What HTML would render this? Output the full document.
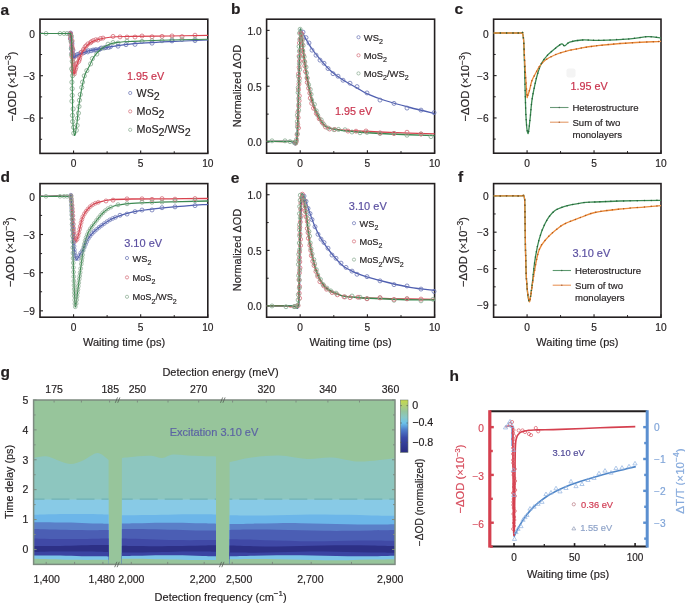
<!DOCTYPE html><html><head><meta charset="utf-8"><style>html,body{margin:0;padding:0;background:#fff;width:685px;height:603px;overflow:hidden;position:relative}</style></head><body><svg width="685" height="603" viewBox="0 0 685 603" style="position:absolute;left:0;top:0;will-change:transform" font-family='"Liberation Sans", sans-serif'>
<style>text{stroke:currentColor;stroke-width:0.18px;paint-order:stroke}</style>
<rect width="685" height="603" fill="#ffffff"/>
<text x="0.60" y="15.20" font-size="15.5" text-anchor="start" fill="#231f20" color="#231f20" font-weight="bold">a</text>
<text x="231.00" y="13.50" font-size="15.5" text-anchor="start" fill="#231f20" color="#231f20" font-weight="bold">b</text>
<text x="454.60" y="13.60" font-size="15.5" text-anchor="start" fill="#231f20" color="#231f20" font-weight="bold">c</text>
<text x="0.40" y="181.60" font-size="15.5" text-anchor="start" fill="#231f20" color="#231f20" font-weight="bold">d</text>
<text x="230.80" y="183.00" font-size="15.5" text-anchor="start" fill="#231f20" color="#231f20" font-weight="bold">e</text>
<text x="458.00" y="181.60" font-size="15.5" text-anchor="start" fill="#231f20" color="#231f20" font-weight="bold">f</text>
<text x="0.60" y="377.20" font-size="15.5" text-anchor="start" fill="#231f20" color="#231f20" font-weight="bold">g</text>
<text x="449.40" y="380.60" font-size="15.5" text-anchor="start" fill="#231f20" color="#231f20" font-weight="bold">h</text>
<rect x="40.00" y="19.20" width="167.80" height="134.20" fill="none" stroke="#231f20" stroke-width="1.6"/>
<line x1="73.56" y1="153.40" x2="73.56" y2="150.40" stroke="#231f20" stroke-width="1.1"/>
<line x1="140.68" y1="153.40" x2="140.68" y2="150.40" stroke="#231f20" stroke-width="1.1"/>
<line x1="207.80" y1="153.40" x2="207.80" y2="150.40" stroke="#231f20" stroke-width="1.1"/>
<line x1="107.12" y1="153.40" x2="107.12" y2="151.30" stroke="#231f20" stroke-width="1.0"/>
<line x1="174.24" y1="153.40" x2="174.24" y2="151.30" stroke="#231f20" stroke-width="1.0"/>
<line x1="40.00" y1="33.33" x2="43.00" y2="33.33" stroke="#231f20" stroke-width="1.1"/>
<line x1="40.00" y1="75.71" x2="43.00" y2="75.71" stroke="#231f20" stroke-width="1.1"/>
<line x1="40.00" y1="118.08" x2="43.00" y2="118.08" stroke="#231f20" stroke-width="1.1"/>
<line x1="40.00" y1="54.52" x2="42.10" y2="54.52" stroke="#231f20" stroke-width="1.0"/>
<line x1="40.00" y1="96.89" x2="42.10" y2="96.89" stroke="#231f20" stroke-width="1.0"/>
<line x1="40.00" y1="139.27" x2="42.10" y2="139.27" stroke="#231f20" stroke-width="1.0"/>
<text x="35.00" y="37.63" font-size="10.2" text-anchor="end" fill="#231f20" color="#231f20" font-weight="normal">0</text>
<text x="35.00" y="80.01" font-size="10.2" text-anchor="end" fill="#231f20" color="#231f20" font-weight="normal">−3</text>
<text x="35.00" y="122.38" font-size="10.2" text-anchor="end" fill="#231f20" color="#231f20" font-weight="normal">−6</text>
<text x="73.56" y="166.60" font-size="10.2" text-anchor="middle" fill="#231f20" color="#231f20" font-weight="normal">0</text>
<text x="140.68" y="166.60" font-size="10.2" text-anchor="middle" fill="#231f20" color="#231f20" font-weight="normal">5</text>
<text x="207.80" y="166.60" font-size="10.2" text-anchor="middle" fill="#231f20" color="#231f20" font-weight="normal">10</text>
<text x="15.60" y="86.50" font-size="11.2" text-anchor="middle" fill="#231f20" color="#231f20" font-weight="normal" transform="rotate(-90 15.60 86.50)">−ΔOD (×10<tspan dy="-4.5" font-size="8.5">−3</tspan><tspan dy="4.5">)</tspan></text>
<circle cx="69.60" cy="33.84" r="2.0" fill="none" stroke="#6a74b4" stroke-width="0.8"/>
<circle cx="70.58" cy="33.06" r="2.0" fill="none" stroke="#6a74b4" stroke-width="0.8"/>
<circle cx="70.58" cy="35.34" r="2.0" fill="none" stroke="#6a74b4" stroke-width="0.8"/>
<circle cx="71.07" cy="37.76" r="2.0" fill="none" stroke="#6a74b4" stroke-width="0.8"/>
<circle cx="70.55" cy="38.99" r="2.0" fill="none" stroke="#6a74b4" stroke-width="0.8"/>
<circle cx="71.83" cy="42.00" r="2.0" fill="none" stroke="#6a74b4" stroke-width="0.8"/>
<circle cx="71.97" cy="43.82" r="2.0" fill="none" stroke="#6a74b4" stroke-width="0.8"/>
<circle cx="71.76" cy="47.04" r="2.0" fill="none" stroke="#6a74b4" stroke-width="0.8"/>
<circle cx="71.70" cy="49.20" r="2.0" fill="none" stroke="#6a74b4" stroke-width="0.8"/>
<circle cx="72.93" cy="50.23" r="2.0" fill="none" stroke="#6a74b4" stroke-width="0.8"/>
<circle cx="71.97" cy="53.11" r="2.0" fill="none" stroke="#6a74b4" stroke-width="0.8"/>
<circle cx="73.52" cy="54.79" r="2.0" fill="none" stroke="#6a74b4" stroke-width="0.8"/>
<circle cx="72.91" cy="56.62" r="2.0" fill="none" stroke="#6a74b4" stroke-width="0.8"/>
<circle cx="73.90" cy="56.82" r="2.0" fill="none" stroke="#6a74b4" stroke-width="0.8"/>
<circle cx="75.74" cy="55.89" r="2.0" fill="none" stroke="#6a74b4" stroke-width="0.8"/>
<circle cx="77.08" cy="54.67" r="2.0" fill="none" stroke="#6a74b4" stroke-width="0.8"/>
<circle cx="78.91" cy="54.13" r="2.0" fill="none" stroke="#6a74b4" stroke-width="0.8"/>
<circle cx="80.91" cy="52.76" r="2.0" fill="none" stroke="#6a74b4" stroke-width="0.8"/>
<circle cx="83.78" cy="52.76" r="2.0" fill="none" stroke="#6a74b4" stroke-width="0.8"/>
<circle cx="85.38" cy="51.59" r="2.0" fill="none" stroke="#6a74b4" stroke-width="0.8"/>
<circle cx="87.75" cy="51.93" r="2.0" fill="none" stroke="#6a74b4" stroke-width="0.8"/>
<circle cx="88.27" cy="50.67" r="2.0" fill="none" stroke="#6a74b4" stroke-width="0.8"/>
<circle cx="91.04" cy="50.74" r="2.0" fill="none" stroke="#6a74b4" stroke-width="0.8"/>
<circle cx="93.17" cy="50.01" r="2.0" fill="none" stroke="#6a74b4" stroke-width="0.8"/>
<circle cx="95.02" cy="50.06" r="2.0" fill="none" stroke="#6a74b4" stroke-width="0.8"/>
<circle cx="96.20" cy="49.64" r="2.0" fill="none" stroke="#6a74b4" stroke-width="0.8"/>
<circle cx="98.83" cy="49.67" r="2.0" fill="none" stroke="#6a74b4" stroke-width="0.8"/>
<circle cx="100.15" cy="48.96" r="2.0" fill="none" stroke="#6a74b4" stroke-width="0.8"/>
<circle cx="101.31" cy="48.07" r="2.0" fill="none" stroke="#6a74b4" stroke-width="0.8"/>
<circle cx="104.54" cy="47.82" r="2.0" fill="none" stroke="#6a74b4" stroke-width="0.8"/>
<circle cx="105.84" cy="47.57" r="2.0" fill="none" stroke="#6a74b4" stroke-width="0.8"/>
<circle cx="108.56" cy="47.39" r="2.0" fill="none" stroke="#6a74b4" stroke-width="0.8"/>
<circle cx="110.44" cy="46.69" r="2.0" fill="none" stroke="#6a74b4" stroke-width="0.8"/>
<circle cx="70.13" cy="33.79" r="2.0" fill="none" stroke="#d46a76" stroke-width="0.8"/>
<circle cx="70.33" cy="33.85" r="2.0" fill="none" stroke="#d46a76" stroke-width="0.8"/>
<circle cx="70.81" cy="35.55" r="2.0" fill="none" stroke="#d46a76" stroke-width="0.8"/>
<circle cx="70.49" cy="38.50" r="2.0" fill="none" stroke="#d46a76" stroke-width="0.8"/>
<circle cx="72.09" cy="40.76" r="2.0" fill="none" stroke="#d46a76" stroke-width="0.8"/>
<circle cx="71.46" cy="42.25" r="2.0" fill="none" stroke="#d46a76" stroke-width="0.8"/>
<circle cx="71.80" cy="45.67" r="2.0" fill="none" stroke="#d46a76" stroke-width="0.8"/>
<circle cx="72.35" cy="47.79" r="2.0" fill="none" stroke="#d46a76" stroke-width="0.8"/>
<circle cx="72.58" cy="49.47" r="2.0" fill="none" stroke="#d46a76" stroke-width="0.8"/>
<circle cx="72.20" cy="52.75" r="2.0" fill="none" stroke="#d46a76" stroke-width="0.8"/>
<circle cx="72.38" cy="54.42" r="2.0" fill="none" stroke="#d46a76" stroke-width="0.8"/>
<circle cx="72.04" cy="56.93" r="2.0" fill="none" stroke="#d46a76" stroke-width="0.8"/>
<circle cx="73.10" cy="58.51" r="2.0" fill="none" stroke="#d46a76" stroke-width="0.8"/>
<circle cx="72.94" cy="61.86" r="2.0" fill="none" stroke="#d46a76" stroke-width="0.8"/>
<circle cx="73.18" cy="63.78" r="2.0" fill="none" stroke="#d46a76" stroke-width="0.8"/>
<circle cx="73.23" cy="66.03" r="2.0" fill="none" stroke="#d46a76" stroke-width="0.8"/>
<circle cx="73.05" cy="67.97" r="2.0" fill="none" stroke="#d46a76" stroke-width="0.8"/>
<circle cx="72.55" cy="70.95" r="2.0" fill="none" stroke="#d46a76" stroke-width="0.8"/>
<circle cx="73.55" cy="72.23" r="2.0" fill="none" stroke="#d46a76" stroke-width="0.8"/>
<circle cx="74.24" cy="73.95" r="2.0" fill="none" stroke="#d46a76" stroke-width="0.8"/>
<circle cx="74.62" cy="71.47" r="2.0" fill="none" stroke="#d46a76" stroke-width="0.8"/>
<circle cx="75.39" cy="69.45" r="2.0" fill="none" stroke="#d46a76" stroke-width="0.8"/>
<circle cx="76.01" cy="67.29" r="2.0" fill="none" stroke="#d46a76" stroke-width="0.8"/>
<circle cx="76.00" cy="64.68" r="2.0" fill="none" stroke="#d46a76" stroke-width="0.8"/>
<circle cx="76.96" cy="63.16" r="2.0" fill="none" stroke="#d46a76" stroke-width="0.8"/>
<circle cx="78.74" cy="61.37" r="2.0" fill="none" stroke="#d46a76" stroke-width="0.8"/>
<circle cx="79.53" cy="59.32" r="2.0" fill="none" stroke="#d46a76" stroke-width="0.8"/>
<circle cx="79.66" cy="57.38" r="2.0" fill="none" stroke="#d46a76" stroke-width="0.8"/>
<circle cx="81.16" cy="54.40" r="2.0" fill="none" stroke="#d46a76" stroke-width="0.8"/>
<circle cx="81.21" cy="52.39" r="2.0" fill="none" stroke="#d46a76" stroke-width="0.8"/>
<circle cx="83.25" cy="50.88" r="2.0" fill="none" stroke="#d46a76" stroke-width="0.8"/>
<circle cx="83.60" cy="49.29" r="2.0" fill="none" stroke="#d46a76" stroke-width="0.8"/>
<circle cx="85.18" cy="46.73" r="2.0" fill="none" stroke="#d46a76" stroke-width="0.8"/>
<circle cx="86.42" cy="45.64" r="2.0" fill="none" stroke="#d46a76" stroke-width="0.8"/>
<circle cx="87.93" cy="43.88" r="2.0" fill="none" stroke="#d46a76" stroke-width="0.8"/>
<circle cx="90.43" cy="42.76" r="2.0" fill="none" stroke="#d46a76" stroke-width="0.8"/>
<circle cx="91.53" cy="41.61" r="2.0" fill="none" stroke="#d46a76" stroke-width="0.8"/>
<circle cx="93.33" cy="40.61" r="2.0" fill="none" stroke="#d46a76" stroke-width="0.8"/>
<circle cx="95.85" cy="39.75" r="2.0" fill="none" stroke="#d46a76" stroke-width="0.8"/>
<circle cx="97.86" cy="40.05" r="2.0" fill="none" stroke="#d46a76" stroke-width="0.8"/>
<circle cx="100.54" cy="38.52" r="2.0" fill="none" stroke="#d46a76" stroke-width="0.8"/>
<circle cx="71.37" cy="36.22" r="2.1" fill="none" stroke="#86a98e" stroke-width="0.8"/>
<circle cx="71.11" cy="41.41" r="2.1" fill="none" stroke="#86a98e" stroke-width="0.8"/>
<circle cx="71.41" cy="48.60" r="2.1" fill="none" stroke="#86a98e" stroke-width="0.8"/>
<circle cx="71.51" cy="54.74" r="2.1" fill="none" stroke="#86a98e" stroke-width="0.8"/>
<circle cx="72.21" cy="61.29" r="2.1" fill="none" stroke="#86a98e" stroke-width="0.8"/>
<circle cx="71.74" cy="68.82" r="2.1" fill="none" stroke="#86a98e" stroke-width="0.8"/>
<circle cx="72.53" cy="75.70" r="2.1" fill="none" stroke="#86a98e" stroke-width="0.8"/>
<circle cx="71.91" cy="82.17" r="2.1" fill="none" stroke="#86a98e" stroke-width="0.8"/>
<circle cx="72.19" cy="88.70" r="2.1" fill="none" stroke="#86a98e" stroke-width="0.8"/>
<circle cx="72.18" cy="95.35" r="2.1" fill="none" stroke="#86a98e" stroke-width="0.8"/>
<circle cx="71.94" cy="101.16" r="2.1" fill="none" stroke="#86a98e" stroke-width="0.8"/>
<circle cx="73.13" cy="108.96" r="2.1" fill="none" stroke="#86a98e" stroke-width="0.8"/>
<circle cx="72.47" cy="115.41" r="2.1" fill="none" stroke="#86a98e" stroke-width="0.8"/>
<circle cx="72.63" cy="121.62" r="2.1" fill="none" stroke="#86a98e" stroke-width="0.8"/>
<circle cx="73.55" cy="127.34" r="2.1" fill="none" stroke="#86a98e" stroke-width="0.8"/>
<circle cx="73.78" cy="133.24" r="2.1" fill="none" stroke="#86a98e" stroke-width="0.8"/>
<circle cx="76.32" cy="130.28" r="2.1" fill="none" stroke="#86a98e" stroke-width="0.8"/>
<circle cx="77.10" cy="125.40" r="2.1" fill="none" stroke="#86a98e" stroke-width="0.8"/>
<circle cx="77.52" cy="118.41" r="2.1" fill="none" stroke="#86a98e" stroke-width="0.8"/>
<circle cx="78.46" cy="113.15" r="2.1" fill="none" stroke="#86a98e" stroke-width="0.8"/>
<circle cx="78.99" cy="106.50" r="2.1" fill="none" stroke="#86a98e" stroke-width="0.8"/>
<circle cx="79.47" cy="100.27" r="2.1" fill="none" stroke="#86a98e" stroke-width="0.8"/>
<circle cx="80.28" cy="94.51" r="2.1" fill="none" stroke="#86a98e" stroke-width="0.8"/>
<circle cx="81.75" cy="87.47" r="2.1" fill="none" stroke="#86a98e" stroke-width="0.8"/>
<circle cx="82.55" cy="82.12" r="2.1" fill="none" stroke="#86a98e" stroke-width="0.8"/>
<circle cx="84.29" cy="75.86" r="2.1" fill="none" stroke="#86a98e" stroke-width="0.8"/>
<circle cx="86.84" cy="70.60" r="2.1" fill="none" stroke="#86a98e" stroke-width="0.8"/>
<circle cx="90.60" cy="63.88" r="2.1" fill="none" stroke="#86a98e" stroke-width="0.8"/>
<circle cx="92.42" cy="58.57" r="2.1" fill="none" stroke="#86a98e" stroke-width="0.8"/>
<circle cx="96.83" cy="54.01" r="2.1" fill="none" stroke="#86a98e" stroke-width="0.8"/>
<circle cx="46.00" cy="33.50" r="2.0" fill="none" stroke="#86a98e" stroke-width="0.8"/>
<circle cx="60.00" cy="33.50" r="2.0" fill="none" stroke="#86a98e" stroke-width="0.8"/>
<circle cx="64.00" cy="33.50" r="2.0" fill="none" stroke="#86a98e" stroke-width="0.8"/>
<circle cx="67.00" cy="33.50" r="2.0" fill="none" stroke="#86a98e" stroke-width="0.8"/>
<circle cx="103.00" cy="38.09" r="2.0" fill="none" stroke="#d46a76" stroke-width="0.8"/>
<circle cx="113.00" cy="36.45" r="2.0" fill="none" stroke="#d46a76" stroke-width="0.8"/>
<circle cx="120.00" cy="36.89" r="2.0" fill="none" stroke="#d46a76" stroke-width="0.8"/>
<circle cx="127.00" cy="37.03" r="2.0" fill="none" stroke="#d46a76" stroke-width="0.8"/>
<circle cx="135.00" cy="37.04" r="2.0" fill="none" stroke="#d46a76" stroke-width="0.8"/>
<circle cx="142.00" cy="36.01" r="2.0" fill="none" stroke="#d46a76" stroke-width="0.8"/>
<circle cx="152.00" cy="36.78" r="2.0" fill="none" stroke="#d46a76" stroke-width="0.8"/>
<circle cx="162.00" cy="36.39" r="2.0" fill="none" stroke="#d46a76" stroke-width="0.8"/>
<circle cx="172.00" cy="35.95" r="2.0" fill="none" stroke="#d46a76" stroke-width="0.8"/>
<circle cx="182.00" cy="36.60" r="2.0" fill="none" stroke="#d46a76" stroke-width="0.8"/>
<circle cx="195.00" cy="35.19" r="2.0" fill="none" stroke="#d46a76" stroke-width="0.8"/>
<circle cx="103.00" cy="48.08" r="2.0" fill="none" stroke="#86a98e" stroke-width="0.8"/>
<circle cx="108.00" cy="44.13" r="2.0" fill="none" stroke="#86a98e" stroke-width="0.8"/>
<circle cx="113.00" cy="42.53" r="2.0" fill="none" stroke="#86a98e" stroke-width="0.8"/>
<circle cx="118.00" cy="43.04" r="2.0" fill="none" stroke="#86a98e" stroke-width="0.8"/>
<circle cx="127.00" cy="41.18" r="2.0" fill="none" stroke="#86a98e" stroke-width="0.8"/>
<circle cx="142.00" cy="41.35" r="2.0" fill="none" stroke="#86a98e" stroke-width="0.8"/>
<circle cx="152.00" cy="40.71" r="2.0" fill="none" stroke="#86a98e" stroke-width="0.8"/>
<circle cx="162.00" cy="40.79" r="2.0" fill="none" stroke="#86a98e" stroke-width="0.8"/>
<circle cx="172.00" cy="39.80" r="2.0" fill="none" stroke="#86a98e" stroke-width="0.8"/>
<circle cx="182.00" cy="39.55" r="2.0" fill="none" stroke="#86a98e" stroke-width="0.8"/>
<circle cx="195.00" cy="39.22" r="2.0" fill="none" stroke="#86a98e" stroke-width="0.8"/>
<circle cx="118.00" cy="46.18" r="2.0" fill="none" stroke="#6a74b4" stroke-width="0.8"/>
<circle cx="126.00" cy="44.68" r="2.0" fill="none" stroke="#6a74b4" stroke-width="0.8"/>
<circle cx="135.00" cy="44.38" r="2.0" fill="none" stroke="#6a74b4" stroke-width="0.8"/>
<circle cx="152.00" cy="43.17" r="2.0" fill="none" stroke="#6a74b4" stroke-width="0.8"/>
<circle cx="172.00" cy="40.92" r="2.0" fill="none" stroke="#6a74b4" stroke-width="0.8"/>
<circle cx="195.00" cy="40.59" r="2.0" fill="none" stroke="#6a74b4" stroke-width="0.8"/>
<path d="M40.00,33.50 C44.67,33.50 62.95,33.42 68.00,33.50 C73.05,33.58 69.63,31.58 70.30,34.00 C70.97,36.42 71.47,44.13 72.00,48.00 C72.53,51.87 72.83,55.90 73.50,57.20 C74.17,58.50 74.83,56.38 76.00,55.80 C77.17,55.22 78.30,54.53 80.50,53.70 C82.70,52.87 86.62,51.48 89.20,50.80 C91.78,50.12 94.23,49.92 96.00,49.60 C97.77,49.28 97.50,49.35 99.80,48.90 C102.10,48.45 104.43,47.73 109.80,46.90 C115.17,46.07 121.97,44.78 132.00,43.90 C142.03,43.02 157.33,42.25 170.00,41.60 C182.67,40.95 201.67,40.27 208.00,40.00" fill="none" stroke="#4f5fb0" stroke-width="1.1" stroke-linejoin="round"/>
<path d="M40.00,33.50 C44.67,33.50 62.95,33.42 68.00,33.50 C73.05,33.58 69.67,32.08 70.30,34.00 C70.93,35.92 71.38,39.67 71.80,45.00 C72.22,50.33 72.43,61.13 72.80,66.00 C73.17,70.87 73.47,74.05 74.00,74.20 C74.53,74.35 75.00,69.78 76.00,66.90 C77.00,64.02 78.52,60.05 80.00,56.90 C81.48,53.75 83.25,50.32 84.90,48.00 C86.55,45.68 88.23,44.25 89.90,43.00 C91.57,41.75 91.58,41.47 94.90,40.50 C98.22,39.53 103.62,37.88 109.80,37.20 C115.98,36.52 121.97,36.60 132.00,36.40 C142.03,36.20 157.33,36.17 170.00,36.00 C182.67,35.83 201.67,35.50 208.00,35.40" fill="none" stroke="#d9434f" stroke-width="1.1" stroke-linejoin="round"/>
<path d="M40.00,33.50 C44.67,33.50 62.95,33.45 68.00,33.50 C73.05,33.55 69.70,32.72 70.30,33.80 C70.90,34.88 71.30,33.97 71.60,40.00 C71.90,46.03 71.93,58.33 72.10,70.00 C72.27,81.67 72.42,100.53 72.60,110.00 C72.78,119.47 72.83,122.57 73.20,126.80 C73.57,131.03 74.18,135.95 74.80,135.40 C75.42,134.85 76.32,127.73 76.90,123.50 C77.48,119.27 77.80,114.13 78.30,110.00 C78.80,105.87 79.25,102.70 79.90,98.70 C80.55,94.70 81.37,89.98 82.20,86.00 C83.03,82.02 83.62,78.32 84.90,74.80 C86.18,71.28 88.40,67.88 89.90,64.90 C91.40,61.92 92.23,59.38 93.90,56.90 C95.57,54.42 97.25,52.15 99.90,50.00 C102.55,47.85 106.50,45.30 109.80,44.00 C113.10,42.70 116.00,42.63 119.70,42.20 C123.40,41.77 125.28,41.72 132.00,41.40 C138.72,41.08 147.33,40.65 160.00,40.30 C172.67,39.95 200.00,39.47 208.00,39.30" fill="none" stroke="#3c8a52" stroke-width="1.1" stroke-linejoin="round"/>
<text x="127.00" y="79.80" font-size="10.8" text-anchor="start" fill="#c9334d" color="#c9334d" font-weight="normal">1.95 eV</text>
<circle cx="130.20" cy="93.00" r="1.6" fill="none" stroke="#6a74b4" stroke-width="0.7"/>
<text x="136.60" y="96.60" font-size="10.7" text-anchor="start" fill="#231f20" color="#231f20" font-weight="normal">WS<tspan dy="3">2</tspan></text>
<circle cx="130.20" cy="111.40" r="1.6" fill="none" stroke="#d46a76" stroke-width="0.7"/>
<text x="136.60" y="115.00" font-size="10.7" text-anchor="start" fill="#231f20" color="#231f20" font-weight="normal">MoS<tspan dy="3">2</tspan></text>
<circle cx="130.20" cy="129.80" r="1.6" fill="none" stroke="#86a98e" stroke-width="0.7"/>
<text x="136.60" y="133.40" font-size="10.7" text-anchor="start" fill="#231f20" color="#231f20" font-weight="normal">MoS<tspan dy="3">2</tspan><tspan dy="-3.4">/WS</tspan><tspan dy="3">2</tspan></text>
<rect x="266.60" y="19.20" width="168.00" height="134.00" fill="none" stroke="#231f20" stroke-width="1.6"/>
<line x1="300.20" y1="153.20" x2="300.20" y2="150.20" stroke="#231f20" stroke-width="1.1"/>
<line x1="367.40" y1="153.20" x2="367.40" y2="150.20" stroke="#231f20" stroke-width="1.1"/>
<line x1="434.60" y1="153.20" x2="434.60" y2="150.20" stroke="#231f20" stroke-width="1.1"/>
<line x1="333.80" y1="153.20" x2="333.80" y2="151.10" stroke="#231f20" stroke-width="1.0"/>
<line x1="401.00" y1="153.20" x2="401.00" y2="151.10" stroke="#231f20" stroke-width="1.0"/>
<line x1="266.60" y1="142.03" x2="269.60" y2="142.03" stroke="#231f20" stroke-width="1.1"/>
<line x1="266.60" y1="86.20" x2="269.60" y2="86.20" stroke="#231f20" stroke-width="1.1"/>
<line x1="266.60" y1="30.37" x2="269.60" y2="30.37" stroke="#231f20" stroke-width="1.1"/>
<line x1="266.60" y1="114.12" x2="268.70" y2="114.12" stroke="#231f20" stroke-width="1.0"/>
<line x1="266.60" y1="58.28" x2="268.70" y2="58.28" stroke="#231f20" stroke-width="1.0"/>
<text x="261.60" y="146.33" font-size="10.2" text-anchor="end" fill="#231f20" color="#231f20" font-weight="normal">0.0</text>
<text x="261.60" y="90.50" font-size="10.2" text-anchor="end" fill="#231f20" color="#231f20" font-weight="normal">0.5</text>
<text x="261.60" y="34.67" font-size="10.2" text-anchor="end" fill="#231f20" color="#231f20" font-weight="normal">1.0</text>
<text x="300.20" y="166.60" font-size="10.2" text-anchor="middle" fill="#231f20" color="#231f20" font-weight="normal">0</text>
<text x="367.40" y="166.60" font-size="10.2" text-anchor="middle" fill="#231f20" color="#231f20" font-weight="normal">5</text>
<text x="434.60" y="166.60" font-size="10.2" text-anchor="middle" fill="#231f20" color="#231f20" font-weight="normal">10</text>
<text x="240.50" y="86.00" font-size="11" text-anchor="middle" fill="#231f20" color="#231f20" font-weight="normal" transform="rotate(-90 240.50 86.00)">Normalized ΔOD</text>
<path d="M266.60,141.40 C270.50,141.40 285.03,141.47 290.00,141.40 C294.97,141.33 294.98,149.57 296.40,141.00 C297.82,132.43 297.90,107.67 298.50,90.00 C299.10,72.33 299.62,44.97 300.00,35.00 C300.38,25.03 300.47,30.78 300.80,30.20 C301.13,29.62 301.18,30.10 302.00,31.50 C302.82,32.90 304.03,35.68 305.70,38.60 C307.37,41.52 309.58,45.55 312.00,49.00 C314.42,52.45 317.10,55.68 320.20,59.30 C323.30,62.92 326.80,67.25 330.60,70.70 C334.40,74.15 338.62,77.13 343.00,80.00 C347.38,82.87 352.93,85.63 356.90,87.90 C360.87,90.17 362.12,91.50 366.80,93.60 C371.48,95.70 377.80,98.18 385.00,100.50 C392.20,102.82 401.73,105.33 410.00,107.50 C418.27,109.67 430.50,112.50 434.60,113.50" fill="none" stroke="#4f5fb0" stroke-width="1.3" stroke-linejoin="round"/>
<path d="M266.60,141.40 C270.83,141.40 286.90,141.63 292.00,141.40 C297.10,141.17 296.07,148.57 297.20,140.00 C298.33,131.43 298.30,107.00 298.80,90.00 C299.30,73.00 299.83,47.67 300.20,38.00 C300.57,28.33 300.67,31.33 301.00,32.00 C301.33,32.67 301.80,38.33 302.20,42.00 C302.60,45.67 302.73,48.50 303.40,54.00 C304.07,59.50 305.03,67.92 306.20,75.00 C307.37,82.08 308.68,89.92 310.40,96.50 C312.12,103.08 314.07,109.55 316.50,114.50 C318.93,119.45 321.62,123.73 325.00,126.20 C328.38,128.67 331.48,128.50 336.80,129.30 C342.12,130.10 348.03,130.48 356.90,131.00 C365.77,131.52 377.05,131.93 390.00,132.40 C402.95,132.87 427.17,133.57 434.60,133.80" fill="none" stroke="#d9434f" stroke-width="1.3" stroke-linejoin="round"/>
<path d="M266.60,141.40 C270.83,141.40 286.97,141.63 292.00,141.40 C297.03,141.17 295.70,148.57 296.80,140.00 C297.90,131.43 298.07,107.33 298.60,90.00 C299.13,72.67 299.63,45.97 300.00,36.00 C300.37,26.03 300.40,29.53 300.80,30.20 C301.20,30.87 301.93,36.37 302.40,40.00 C302.87,43.63 302.90,46.50 303.60,52.00 C304.30,57.50 305.38,65.83 306.60,73.00 C307.82,80.17 309.12,88.25 310.90,95.00 C312.68,101.75 314.87,108.33 317.30,113.50 C319.73,118.67 322.25,123.32 325.50,126.00 C328.75,128.68 331.57,128.60 336.80,129.60 C342.03,130.60 348.03,131.27 356.90,132.00 C365.77,132.73 377.05,133.40 390.00,134.00 C402.95,134.60 427.17,135.33 434.60,135.60" fill="none" stroke="#3c8a52" stroke-width="1.3" stroke-linejoin="round"/>
<circle cx="303.00" cy="32.15" r="2.0" fill="none" stroke="#6a74b4" stroke-width="0.8"/>
<circle cx="306.00" cy="37.65" r="2.0" fill="none" stroke="#6a74b4" stroke-width="0.8"/>
<circle cx="309.00" cy="42.96" r="2.0" fill="none" stroke="#6a74b4" stroke-width="0.8"/>
<circle cx="312.00" cy="50.17" r="2.0" fill="none" stroke="#6a74b4" stroke-width="0.8"/>
<circle cx="316.00" cy="55.20" r="2.0" fill="none" stroke="#6a74b4" stroke-width="0.8"/>
<circle cx="320.00" cy="60.12" r="2.0" fill="none" stroke="#6a74b4" stroke-width="0.8"/>
<circle cx="324.00" cy="63.25" r="2.0" fill="none" stroke="#6a74b4" stroke-width="0.8"/>
<circle cx="328.00" cy="68.54" r="2.0" fill="none" stroke="#6a74b4" stroke-width="0.8"/>
<circle cx="333.00" cy="73.68" r="2.0" fill="none" stroke="#6a74b4" stroke-width="0.8"/>
<circle cx="338.00" cy="76.21" r="2.0" fill="none" stroke="#6a74b4" stroke-width="0.8"/>
<circle cx="343.00" cy="80.23" r="2.0" fill="none" stroke="#6a74b4" stroke-width="0.8"/>
<circle cx="350.00" cy="83.23" r="2.0" fill="none" stroke="#6a74b4" stroke-width="0.8"/>
<circle cx="357.00" cy="86.62" r="2.0" fill="none" stroke="#6a74b4" stroke-width="0.8"/>
<circle cx="367.00" cy="92.94" r="2.0" fill="none" stroke="#6a74b4" stroke-width="0.8"/>
<circle cx="380.00" cy="100.07" r="2.0" fill="none" stroke="#6a74b4" stroke-width="0.8"/>
<circle cx="394.00" cy="103.40" r="2.0" fill="none" stroke="#6a74b4" stroke-width="0.8"/>
<circle cx="407.00" cy="108.07" r="2.0" fill="none" stroke="#6a74b4" stroke-width="0.8"/>
<circle cx="421.00" cy="110.11" r="2.0" fill="none" stroke="#6a74b4" stroke-width="0.8"/>
<circle cx="434.00" cy="112.64" r="2.0" fill="none" stroke="#6a74b4" stroke-width="0.8"/>
<circle cx="295.56" cy="143.07" r="2.0" fill="none" stroke="#d46a76" stroke-width="0.8"/>
<circle cx="296.36" cy="141.41" r="2.0" fill="none" stroke="#d46a76" stroke-width="0.8"/>
<circle cx="297.07" cy="134.61" r="2.0" fill="none" stroke="#d46a76" stroke-width="0.8"/>
<circle cx="298.49" cy="127.99" r="2.0" fill="none" stroke="#d46a76" stroke-width="0.8"/>
<circle cx="297.74" cy="124.28" r="2.0" fill="none" stroke="#d46a76" stroke-width="0.8"/>
<circle cx="298.13" cy="117.62" r="2.0" fill="none" stroke="#d46a76" stroke-width="0.8"/>
<circle cx="297.88" cy="112.11" r="2.0" fill="none" stroke="#d46a76" stroke-width="0.8"/>
<circle cx="298.79" cy="106.12" r="2.0" fill="none" stroke="#d46a76" stroke-width="0.8"/>
<circle cx="299.13" cy="100.74" r="2.0" fill="none" stroke="#d46a76" stroke-width="0.8"/>
<circle cx="299.32" cy="95.87" r="2.0" fill="none" stroke="#d46a76" stroke-width="0.8"/>
<circle cx="298.51" cy="89.65" r="2.0" fill="none" stroke="#d46a76" stroke-width="0.8"/>
<circle cx="298.92" cy="84.11" r="2.0" fill="none" stroke="#d46a76" stroke-width="0.8"/>
<circle cx="299.32" cy="78.35" r="2.0" fill="none" stroke="#d46a76" stroke-width="0.8"/>
<circle cx="298.57" cy="73.77" r="2.0" fill="none" stroke="#d46a76" stroke-width="0.8"/>
<circle cx="299.12" cy="67.27" r="2.0" fill="none" stroke="#d46a76" stroke-width="0.8"/>
<circle cx="299.48" cy="60.99" r="2.0" fill="none" stroke="#d46a76" stroke-width="0.8"/>
<circle cx="299.08" cy="56.16" r="2.0" fill="none" stroke="#d46a76" stroke-width="0.8"/>
<circle cx="300.49" cy="50.94" r="2.0" fill="none" stroke="#d46a76" stroke-width="0.8"/>
<circle cx="299.48" cy="42.93" r="2.0" fill="none" stroke="#d46a76" stroke-width="0.8"/>
<circle cx="300.36" cy="38.67" r="2.0" fill="none" stroke="#d46a76" stroke-width="0.8"/>
<circle cx="300.49" cy="33.15" r="2.0" fill="none" stroke="#d46a76" stroke-width="0.8"/>
<circle cx="301.62" cy="33.90" r="2.0" fill="none" stroke="#d46a76" stroke-width="0.8"/>
<circle cx="302.01" cy="39.35" r="2.0" fill="none" stroke="#d46a76" stroke-width="0.8"/>
<circle cx="302.11" cy="44.06" r="2.0" fill="none" stroke="#d46a76" stroke-width="0.8"/>
<circle cx="302.62" cy="50.35" r="2.0" fill="none" stroke="#d46a76" stroke-width="0.8"/>
<circle cx="303.43" cy="55.06" r="2.0" fill="none" stroke="#d46a76" stroke-width="0.8"/>
<circle cx="304.41" cy="61.28" r="2.0" fill="none" stroke="#d46a76" stroke-width="0.8"/>
<circle cx="304.75" cy="65.86" r="2.0" fill="none" stroke="#d46a76" stroke-width="0.8"/>
<circle cx="305.45" cy="71.48" r="2.0" fill="none" stroke="#d46a76" stroke-width="0.8"/>
<circle cx="307.04" cy="77.70" r="2.0" fill="none" stroke="#d46a76" stroke-width="0.8"/>
<circle cx="307.21" cy="82.40" r="2.0" fill="none" stroke="#d46a76" stroke-width="0.8"/>
<circle cx="308.58" cy="88.24" r="2.0" fill="none" stroke="#d46a76" stroke-width="0.8"/>
<circle cx="309.79" cy="93.10" r="2.0" fill="none" stroke="#d46a76" stroke-width="0.8"/>
<circle cx="310.25" cy="98.11" r="2.0" fill="none" stroke="#d46a76" stroke-width="0.8"/>
<circle cx="311.70" cy="103.38" r="2.0" fill="none" stroke="#d46a76" stroke-width="0.8"/>
<circle cx="313.51" cy="108.21" r="2.0" fill="none" stroke="#d46a76" stroke-width="0.8"/>
<circle cx="316.33" cy="113.45" r="2.0" fill="none" stroke="#d46a76" stroke-width="0.8"/>
<circle cx="319.18" cy="118.73" r="2.0" fill="none" stroke="#d46a76" stroke-width="0.8"/>
<circle cx="322.19" cy="122.51" r="2.0" fill="none" stroke="#d46a76" stroke-width="0.8"/>
<circle cx="325.51" cy="126.96" r="2.0" fill="none" stroke="#d46a76" stroke-width="0.8"/>
<circle cx="329.58" cy="129.00" r="2.0" fill="none" stroke="#d46a76" stroke-width="0.8"/>
<circle cx="334.81" cy="129.47" r="2.0" fill="none" stroke="#d46a76" stroke-width="0.8"/>
<circle cx="295.73" cy="143.06" r="2.0" fill="none" stroke="#86a98e" stroke-width="0.8"/>
<circle cx="296.55" cy="139.45" r="2.0" fill="none" stroke="#86a98e" stroke-width="0.8"/>
<circle cx="297.38" cy="133.76" r="2.0" fill="none" stroke="#86a98e" stroke-width="0.8"/>
<circle cx="297.38" cy="126.80" r="2.0" fill="none" stroke="#86a98e" stroke-width="0.8"/>
<circle cx="297.33" cy="121.61" r="2.0" fill="none" stroke="#86a98e" stroke-width="0.8"/>
<circle cx="297.33" cy="115.22" r="2.0" fill="none" stroke="#86a98e" stroke-width="0.8"/>
<circle cx="298.68" cy="110.16" r="2.0" fill="none" stroke="#86a98e" stroke-width="0.8"/>
<circle cx="298.82" cy="104.40" r="2.0" fill="none" stroke="#86a98e" stroke-width="0.8"/>
<circle cx="298.73" cy="98.45" r="2.0" fill="none" stroke="#86a98e" stroke-width="0.8"/>
<circle cx="298.07" cy="92.55" r="2.0" fill="none" stroke="#86a98e" stroke-width="0.8"/>
<circle cx="298.20" cy="87.63" r="2.0" fill="none" stroke="#86a98e" stroke-width="0.8"/>
<circle cx="299.07" cy="81.31" r="2.0" fill="none" stroke="#86a98e" stroke-width="0.8"/>
<circle cx="298.38" cy="76.30" r="2.0" fill="none" stroke="#86a98e" stroke-width="0.8"/>
<circle cx="299.58" cy="69.55" r="2.0" fill="none" stroke="#86a98e" stroke-width="0.8"/>
<circle cx="299.35" cy="63.78" r="2.0" fill="none" stroke="#86a98e" stroke-width="0.8"/>
<circle cx="299.37" cy="57.10" r="2.0" fill="none" stroke="#86a98e" stroke-width="0.8"/>
<circle cx="299.34" cy="51.16" r="2.0" fill="none" stroke="#86a98e" stroke-width="0.8"/>
<circle cx="299.04" cy="46.41" r="2.0" fill="none" stroke="#86a98e" stroke-width="0.8"/>
<circle cx="299.77" cy="39.56" r="2.0" fill="none" stroke="#86a98e" stroke-width="0.8"/>
<circle cx="299.49" cy="33.19" r="2.0" fill="none" stroke="#86a98e" stroke-width="0.8"/>
<circle cx="300.14" cy="29.24" r="2.0" fill="none" stroke="#86a98e" stroke-width="0.8"/>
<circle cx="301.41" cy="35.63" r="2.0" fill="none" stroke="#86a98e" stroke-width="0.8"/>
<circle cx="302.32" cy="40.40" r="2.0" fill="none" stroke="#86a98e" stroke-width="0.8"/>
<circle cx="303.12" cy="45.49" r="2.0" fill="none" stroke="#86a98e" stroke-width="0.8"/>
<circle cx="302.81" cy="51.23" r="2.0" fill="none" stroke="#86a98e" stroke-width="0.8"/>
<circle cx="304.19" cy="56.80" r="2.0" fill="none" stroke="#86a98e" stroke-width="0.8"/>
<circle cx="304.82" cy="62.14" r="2.0" fill="none" stroke="#86a98e" stroke-width="0.8"/>
<circle cx="306.04" cy="67.10" r="2.0" fill="none" stroke="#86a98e" stroke-width="0.8"/>
<circle cx="306.59" cy="72.97" r="2.0" fill="none" stroke="#86a98e" stroke-width="0.8"/>
<circle cx="307.15" cy="78.39" r="2.0" fill="none" stroke="#86a98e" stroke-width="0.8"/>
<circle cx="308.62" cy="84.73" r="2.0" fill="none" stroke="#86a98e" stroke-width="0.8"/>
<circle cx="310.23" cy="89.41" r="2.0" fill="none" stroke="#86a98e" stroke-width="0.8"/>
<circle cx="311.10" cy="94.37" r="2.0" fill="none" stroke="#86a98e" stroke-width="0.8"/>
<circle cx="311.71" cy="100.03" r="2.0" fill="none" stroke="#86a98e" stroke-width="0.8"/>
<circle cx="314.38" cy="104.37" r="2.0" fill="none" stroke="#86a98e" stroke-width="0.8"/>
<circle cx="316.24" cy="110.78" r="2.0" fill="none" stroke="#86a98e" stroke-width="0.8"/>
<circle cx="317.77" cy="115.30" r="2.0" fill="none" stroke="#86a98e" stroke-width="0.8"/>
<circle cx="321.18" cy="119.85" r="2.0" fill="none" stroke="#86a98e" stroke-width="0.8"/>
<circle cx="323.91" cy="124.50" r="2.0" fill="none" stroke="#86a98e" stroke-width="0.8"/>
<circle cx="328.03" cy="128.05" r="2.0" fill="none" stroke="#86a98e" stroke-width="0.8"/>
<circle cx="333.84" cy="129.64" r="2.0" fill="none" stroke="#86a98e" stroke-width="0.8"/>
<circle cx="338.49" cy="129.44" r="2.0" fill="none" stroke="#86a98e" stroke-width="0.8"/>
<circle cx="272.00" cy="140.84" r="2.0" fill="none" stroke="#86a98e" stroke-width="0.8"/>
<circle cx="285.00" cy="140.83" r="2.0" fill="none" stroke="#86a98e" stroke-width="0.8"/>
<circle cx="290.00" cy="141.63" r="2.0" fill="none" stroke="#86a98e" stroke-width="0.8"/>
<circle cx="294.00" cy="142.42" r="2.0" fill="none" stroke="#86a98e" stroke-width="0.8"/>
<circle cx="345.00" cy="129.77" r="2.0" fill="none" stroke="#86a98e" stroke-width="0.8"/>
<circle cx="352.00" cy="132.01" r="2.0" fill="none" stroke="#86a98e" stroke-width="0.8"/>
<circle cx="360.00" cy="132.77" r="2.0" fill="none" stroke="#86a98e" stroke-width="0.8"/>
<circle cx="367.00" cy="132.38" r="2.0" fill="none" stroke="#86a98e" stroke-width="0.8"/>
<circle cx="380.00" cy="133.54" r="2.0" fill="none" stroke="#86a98e" stroke-width="0.8"/>
<circle cx="394.00" cy="133.37" r="2.0" fill="none" stroke="#86a98e" stroke-width="0.8"/>
<circle cx="407.00" cy="135.22" r="2.0" fill="none" stroke="#86a98e" stroke-width="0.8"/>
<circle cx="421.00" cy="134.04" r="2.0" fill="none" stroke="#86a98e" stroke-width="0.8"/>
<circle cx="431.00" cy="136.63" r="2.0" fill="none" stroke="#86a98e" stroke-width="0.8"/>
<circle cx="348.00" cy="131.06" r="2.0" fill="none" stroke="#d46a76" stroke-width="0.8"/>
<circle cx="356.00" cy="131.20" r="2.0" fill="none" stroke="#d46a76" stroke-width="0.8"/>
<circle cx="366.00" cy="131.00" r="2.0" fill="none" stroke="#d46a76" stroke-width="0.8"/>
<circle cx="380.00" cy="132.86" r="2.0" fill="none" stroke="#d46a76" stroke-width="0.8"/>
<circle cx="394.00" cy="133.46" r="2.0" fill="none" stroke="#d46a76" stroke-width="0.8"/>
<circle cx="407.00" cy="132.24" r="2.0" fill="none" stroke="#d46a76" stroke-width="0.8"/>
<circle cx="421.00" cy="133.94" r="2.0" fill="none" stroke="#d46a76" stroke-width="0.8"/>
<text x="335.00" y="114.60" font-size="10.8" text-anchor="start" fill="#c9334d" color="#c9334d" font-weight="normal">1.95 eV</text>
<circle cx="358.50" cy="37.20" r="1.6" fill="none" stroke="#6a74b4" stroke-width="0.7"/>
<text x="363.80" y="40.80" font-size="9.4" text-anchor="start" fill="#231f20" color="#231f20" font-weight="normal">WS<tspan dy="3.4" font-size="7">2</tspan></text>
<circle cx="358.50" cy="55.30" r="1.6" fill="none" stroke="#d46a76" stroke-width="0.7"/>
<text x="363.80" y="58.90" font-size="9.4" text-anchor="start" fill="#231f20" color="#231f20" font-weight="normal">MoS<tspan dy="3.4" font-size="7">2</tspan></text>
<circle cx="358.50" cy="73.40" r="1.6" fill="none" stroke="#86a98e" stroke-width="0.7"/>
<text x="363.80" y="77.00" font-size="9.4" text-anchor="start" fill="#231f20" color="#231f20" font-weight="normal">MoS<tspan dy="3.4" font-size="7">2</tspan><tspan dy="-3.4">/WS</tspan><tspan dy="3.4" font-size="7">2</tspan></text>
<rect x="493.60" y="19.20" width="167.40" height="134.00" fill="none" stroke="#231f20" stroke-width="1.6"/>
<line x1="527.08" y1="153.20" x2="527.08" y2="150.20" stroke="#231f20" stroke-width="1.1"/>
<line x1="594.04" y1="153.20" x2="594.04" y2="150.20" stroke="#231f20" stroke-width="1.1"/>
<line x1="661.00" y1="153.20" x2="661.00" y2="150.20" stroke="#231f20" stroke-width="1.1"/>
<line x1="560.56" y1="153.20" x2="560.56" y2="151.10" stroke="#231f20" stroke-width="1.0"/>
<line x1="627.52" y1="153.20" x2="627.52" y2="151.10" stroke="#231f20" stroke-width="1.0"/>
<line x1="493.60" y1="33.31" x2="496.60" y2="33.31" stroke="#231f20" stroke-width="1.1"/>
<line x1="493.60" y1="75.62" x2="496.60" y2="75.62" stroke="#231f20" stroke-width="1.1"/>
<line x1="493.60" y1="117.94" x2="496.60" y2="117.94" stroke="#231f20" stroke-width="1.1"/>
<line x1="493.60" y1="54.46" x2="495.70" y2="54.46" stroke="#231f20" stroke-width="1.0"/>
<line x1="493.60" y1="96.78" x2="495.70" y2="96.78" stroke="#231f20" stroke-width="1.0"/>
<line x1="493.60" y1="139.09" x2="495.70" y2="139.09" stroke="#231f20" stroke-width="1.0"/>
<text x="488.60" y="37.61" font-size="10.2" text-anchor="end" fill="#231f20" color="#231f20" font-weight="normal">0</text>
<text x="488.60" y="79.92" font-size="10.2" text-anchor="end" fill="#231f20" color="#231f20" font-weight="normal">−3</text>
<text x="488.60" y="122.24" font-size="10.2" text-anchor="end" fill="#231f20" color="#231f20" font-weight="normal">−6</text>
<text x="527.08" y="166.60" font-size="10.2" text-anchor="middle" fill="#231f20" color="#231f20" font-weight="normal">0</text>
<text x="594.04" y="166.60" font-size="10.2" text-anchor="middle" fill="#231f20" color="#231f20" font-weight="normal">5</text>
<text x="661.00" y="166.60" font-size="10.2" text-anchor="middle" fill="#231f20" color="#231f20" font-weight="normal">10</text>
<text x="469.10" y="86.50" font-size="11.2" text-anchor="middle" fill="#231f20" color="#231f20" font-weight="normal" transform="rotate(-90 469.10 86.50)">−ΔOD (×10<tspan dy="-4.5" font-size="8.5">−3</tspan><tspan dy="4.5">)</tspan></text>
<path d="M493.60,33.00 C498.00,33.00 515.20,32.98 520.00,33.00 C524.80,33.02 521.80,31.93 522.40,33.10 C523.00,34.27 523.27,35.52 523.60,40.00 C523.93,44.48 524.02,47.57 524.40,60.00 C524.78,72.43 525.32,102.35 525.90,114.60 C526.48,126.85 527.23,132.52 527.90,133.50 C528.57,134.48 529.23,125.98 529.90,120.50 C530.57,115.02 531.07,106.57 531.90,100.60 C532.73,94.63 533.90,89.33 534.90,84.70 C535.90,80.07 536.75,76.45 537.90,72.80 C539.05,69.15 540.15,65.78 541.80,62.80 C543.45,59.82 545.47,57.38 547.80,54.90 C550.13,52.42 553.48,49.73 555.80,47.90 C558.12,46.07 560.22,44.23 561.70,43.90 C563.18,43.57 563.37,46.18 564.70,45.90 C566.03,45.62 566.82,43.18 569.70,42.20 C572.58,41.22 576.95,40.32 582.00,40.00 C587.05,39.68 592.00,40.50 600.00,40.30 C608.00,40.10 622.00,39.42 630.00,38.80 C638.00,38.18 642.83,36.72 648.00,36.60 C653.17,36.48 658.83,37.85 661.00,38.10" fill="none" stroke="#3c8a52" stroke-width="1.3" stroke-linejoin="round"/>
<path d="M493.60,33.00 C498.00,33.00 515.20,32.98 520.00,33.00 C524.80,33.02 521.80,31.93 522.40,33.10 C523.00,34.27 523.18,34.72 523.60,40.00 C524.02,45.28 524.35,55.68 524.90,64.80 C525.45,73.92 526.45,89.50 526.90,94.70 C527.35,99.90 527.10,97.00 527.60,96.00 C528.10,95.00 529.18,91.25 529.90,88.70 C530.62,86.15 530.90,83.35 531.90,80.70 C532.90,78.05 534.57,75.28 535.90,72.80 C537.23,70.32 538.25,67.97 539.90,65.80 C541.55,63.63 543.15,61.68 545.80,59.80 C548.45,57.92 552.48,55.92 555.80,54.50 C559.12,53.08 561.33,52.40 565.70,51.30 C570.07,50.20 577.15,48.78 582.00,47.90 C586.85,47.02 588.47,46.73 594.80,46.00 C601.13,45.27 608.97,44.28 620.00,43.50 C631.03,42.72 654.17,41.67 661.00,41.30" fill="none" stroke="#ea8a3a" stroke-width="1.3" stroke-linejoin="round"/>
<circle cx="500.34" cy="33.00" r="0.75" fill="#b0581c"/>
<circle cx="506.65" cy="32.99" r="0.75" fill="#b0581c"/>
<circle cx="513.01" cy="32.99" r="0.75" fill="#b0581c"/>
<circle cx="518.21" cy="33.00" r="0.75" fill="#b0581c"/>
<circle cx="522.45" cy="32.59" r="0.75" fill="#b0581c"/>
<circle cx="523.43" cy="37.93" r="0.75" fill="#b0581c"/>
<circle cx="523.84" cy="43.73" r="0.75" fill="#b0581c"/>
<circle cx="524.14" cy="49.66" r="0.75" fill="#b0581c"/>
<circle cx="524.39" cy="55.03" r="0.75" fill="#b0581c"/>
<circle cx="524.67" cy="60.63" r="0.75" fill="#b0581c"/>
<circle cx="524.99" cy="66.21" r="0.75" fill="#b0581c"/>
<circle cx="525.38" cy="72.59" r="0.75" fill="#b0581c"/>
<circle cx="525.71" cy="77.77" r="0.75" fill="#b0581c"/>
<circle cx="526.05" cy="82.91" r="0.75" fill="#b0581c"/>
<circle cx="526.47" cy="89.12" r="0.75" fill="#b0581c"/>
<circle cx="526.90" cy="94.70" r="0.75" fill="#b0581c"/>
<circle cx="527.77" cy="95.62" r="0.75" fill="#b0581c"/>
<circle cx="529.31" cy="90.78" r="0.75" fill="#b0581c"/>
<circle cx="530.63" cy="85.55" r="0.75" fill="#b0581c"/>
<circle cx="531.90" cy="80.70" r="0.75" fill="#b0581c"/>
<circle cx="534.20" cy="75.89" r="0.75" fill="#b0581c"/>
<circle cx="536.67" cy="71.33" r="0.75" fill="#b0581c"/>
<circle cx="539.20" cy="66.79" r="0.75" fill="#b0581c"/>
<circle cx="542.47" cy="62.69" r="0.75" fill="#b0581c"/>
<circle cx="546.63" cy="59.23" r="0.75" fill="#b0581c"/>
<circle cx="551.08" cy="56.70" r="0.75" fill="#b0581c"/>
<circle cx="555.80" cy="54.50" r="0.75" fill="#b0581c"/>
<circle cx="560.81" cy="52.64" r="0.75" fill="#b0581c"/>
<circle cx="565.70" cy="51.30" r="0.75" fill="#b0581c"/>
<circle cx="571.07" cy="50.07" r="0.75" fill="#b0581c"/>
<circle cx="576.30" cy="48.99" r="0.75" fill="#b0581c"/>
<circle cx="581.26" cy="48.04" r="0.75" fill="#b0581c"/>
<circle cx="586.25" cy="47.15" r="0.75" fill="#b0581c"/>
<circle cx="591.50" cy="46.39" r="0.75" fill="#b0581c"/>
<circle cx="596.75" cy="45.77" r="0.75" fill="#b0581c"/>
<circle cx="602.07" cy="45.16" r="0.75" fill="#b0581c"/>
<circle cx="608.19" cy="44.51" r="0.75" fill="#b0581c"/>
<circle cx="613.75" cy="43.99" r="0.75" fill="#b0581c"/>
<circle cx="620.00" cy="43.50" r="0.75" fill="#b0581c"/>
<circle cx="625.69" cy="43.13" r="0.75" fill="#b0581c"/>
<circle cx="632.43" cy="42.75" r="0.75" fill="#b0581c"/>
<circle cx="639.66" cy="42.37" r="0.75" fill="#b0581c"/>
<circle cx="646.79" cy="42.01" r="0.75" fill="#b0581c"/>
<circle cx="653.26" cy="41.69" r="0.75" fill="#b0581c"/>
<circle cx="658.49" cy="41.43" r="0.75" fill="#b0581c"/>
<circle cx="500.34" cy="33.00" r="0.75" fill="#24603a"/>
<circle cx="506.65" cy="32.99" r="0.75" fill="#24603a"/>
<circle cx="513.01" cy="32.99" r="0.75" fill="#24603a"/>
<circle cx="518.21" cy="33.00" r="0.75" fill="#24603a"/>
<circle cx="522.45" cy="32.59" r="0.75" fill="#24603a"/>
<circle cx="523.40" cy="37.67" r="0.75" fill="#24603a"/>
<circle cx="523.81" cy="43.27" r="0.75" fill="#24603a"/>
<circle cx="524.05" cy="48.88" r="0.75" fill="#24603a"/>
<circle cx="524.25" cy="55.00" r="0.75" fill="#24603a"/>
<circle cx="524.40" cy="60.00" r="0.75" fill="#24603a"/>
<circle cx="524.58" cy="66.66" r="0.75" fill="#24603a"/>
<circle cx="524.71" cy="72.05" r="0.75" fill="#24603a"/>
<circle cx="524.85" cy="77.97" r="0.75" fill="#24603a"/>
<circle cx="525.00" cy="84.20" r="0.75" fill="#24603a"/>
<circle cx="525.15" cy="90.53" r="0.75" fill="#24603a"/>
<circle cx="525.31" cy="96.75" r="0.75" fill="#24603a"/>
<circle cx="525.47" cy="102.65" r="0.75" fill="#24603a"/>
<circle cx="525.64" cy="108.01" r="0.75" fill="#24603a"/>
<circle cx="525.90" cy="114.60" r="0.75" fill="#24603a"/>
<circle cx="526.17" cy="119.67" r="0.75" fill="#24603a"/>
<circle cx="526.56" cy="125.12" r="0.75" fill="#24603a"/>
<circle cx="527.18" cy="130.66" r="0.75" fill="#24603a"/>
<circle cx="528.60" cy="131.58" r="0.75" fill="#24603a"/>
<circle cx="529.30" cy="125.91" r="0.75" fill="#24603a"/>
<circle cx="529.90" cy="120.50" r="0.75" fill="#24603a"/>
<circle cx="530.47" cy="114.91" r="0.75" fill="#24603a"/>
<circle cx="530.93" cy="109.67" r="0.75" fill="#24603a"/>
<circle cx="531.44" cy="104.43" r="0.75" fill="#24603a"/>
<circle cx="532.16" cy="98.83" r="0.75" fill="#24603a"/>
<circle cx="533.03" cy="93.76" r="0.75" fill="#24603a"/>
<circle cx="534.13" cy="88.30" r="0.75" fill="#24603a"/>
<circle cx="535.20" cy="83.34" r="0.75" fill="#24603a"/>
<circle cx="536.34" cy="78.38" r="0.75" fill="#24603a"/>
<circle cx="537.73" cy="73.35" r="0.75" fill="#24603a"/>
<circle cx="539.29" cy="68.56" r="0.75" fill="#24603a"/>
<circle cx="541.32" cy="63.71" r="0.75" fill="#24603a"/>
<circle cx="543.95" cy="59.45" r="0.75" fill="#24603a"/>
<circle cx="547.45" cy="55.27" r="0.75" fill="#24603a"/>
<circle cx="551.38" cy="51.52" r="0.75" fill="#24603a"/>
<circle cx="555.45" cy="48.18" r="0.75" fill="#24603a"/>
<circle cx="559.65" cy="44.92" r="0.75" fill="#24603a"/>
<circle cx="563.74" cy="45.53" r="0.75" fill="#24603a"/>
<circle cx="567.89" cy="43.15" r="0.75" fill="#24603a"/>
<circle cx="572.67" cy="41.35" r="0.75" fill="#24603a"/>
<circle cx="577.66" cy="40.43" r="0.75" fill="#24603a"/>
<circle cx="582.76" cy="39.96" r="0.75" fill="#24603a"/>
<circle cx="588.21" cy="40.03" r="0.75" fill="#24603a"/>
<circle cx="593.54" cy="40.26" r="0.75" fill="#24603a"/>
<circle cx="598.82" cy="40.32" r="0.75" fill="#24603a"/>
<circle cx="603.96" cy="40.18" r="0.75" fill="#24603a"/>
<circle cx="610.09" cy="39.94" r="0.75" fill="#24603a"/>
<circle cx="616.65" cy="39.62" r="0.75" fill="#24603a"/>
<circle cx="623.06" cy="39.27" r="0.75" fill="#24603a"/>
<circle cx="628.76" cy="38.89" r="0.75" fill="#24603a"/>
<circle cx="634.45" cy="38.35" r="0.75" fill="#24603a"/>
<circle cx="640.06" cy="37.51" r="0.75" fill="#24603a"/>
<circle cx="645.69" cy="36.74" r="0.75" fill="#24603a"/>
<circle cx="651.13" cy="36.69" r="0.75" fill="#24603a"/>
<circle cx="656.31" cy="37.32" r="0.75" fill="#24603a"/>
<rect x="566.5" y="68.5" width="9" height="9" rx="2" fill="#f4f4f4"/>
<text x="570.50" y="90.20" font-size="10.8" text-anchor="start" fill="#c9334d" color="#c9334d" font-weight="normal">1.95 eV</text>
<line x1="550.00" y1="107.50" x2="568.50" y2="107.50" stroke="#6a9a78" stroke-width="1.1"/>
<circle cx="559.30" cy="107.50" r="0.8" fill="#4a6a55"/>
<line x1="550.00" y1="122.20" x2="568.50" y2="122.20" stroke="#e39a68" stroke-width="1.1"/>
<circle cx="559.30" cy="122.20" r="0.8" fill="#b06a40"/>
<text x="572.40" y="111.00" font-size="9.6" text-anchor="start" fill="#231f20" color="#231f20" font-weight="normal">Heterostructure</text>
<text x="572.40" y="125.70" font-size="9.6" text-anchor="start" fill="#231f20" color="#231f20" font-weight="normal">Sum of two</text>
<text x="572.40" y="138.00" font-size="9.6" text-anchor="start" fill="#231f20" color="#231f20" font-weight="normal">monolayers</text>
<rect x="40.00" y="183.60" width="167.80" height="133.60" fill="none" stroke="#231f20" stroke-width="1.6"/>
<line x1="73.56" y1="317.20" x2="73.56" y2="314.20" stroke="#231f20" stroke-width="1.1"/>
<line x1="140.68" y1="317.20" x2="140.68" y2="314.20" stroke="#231f20" stroke-width="1.1"/>
<line x1="207.80" y1="317.20" x2="207.80" y2="314.20" stroke="#231f20" stroke-width="1.1"/>
<line x1="107.12" y1="317.20" x2="107.12" y2="315.10" stroke="#231f20" stroke-width="1.0"/>
<line x1="174.24" y1="317.20" x2="174.24" y2="315.10" stroke="#231f20" stroke-width="1.0"/>
<line x1="40.00" y1="196.32" x2="43.00" y2="196.32" stroke="#231f20" stroke-width="1.1"/>
<line x1="40.00" y1="234.50" x2="43.00" y2="234.50" stroke="#231f20" stroke-width="1.1"/>
<line x1="40.00" y1="272.67" x2="43.00" y2="272.67" stroke="#231f20" stroke-width="1.1"/>
<line x1="40.00" y1="310.84" x2="43.00" y2="310.84" stroke="#231f20" stroke-width="1.1"/>
<line x1="40.00" y1="215.41" x2="42.10" y2="215.41" stroke="#231f20" stroke-width="1.0"/>
<line x1="40.00" y1="253.58" x2="42.10" y2="253.58" stroke="#231f20" stroke-width="1.0"/>
<line x1="40.00" y1="291.75" x2="42.10" y2="291.75" stroke="#231f20" stroke-width="1.0"/>
<text x="35.00" y="200.62" font-size="10.2" text-anchor="end" fill="#231f20" color="#231f20" font-weight="normal">0</text>
<text x="35.00" y="238.80" font-size="10.2" text-anchor="end" fill="#231f20" color="#231f20" font-weight="normal">−3</text>
<text x="35.00" y="276.97" font-size="10.2" text-anchor="end" fill="#231f20" color="#231f20" font-weight="normal">−6</text>
<text x="35.00" y="315.14" font-size="10.2" text-anchor="end" fill="#231f20" color="#231f20" font-weight="normal">−9</text>
<text x="73.56" y="330.80" font-size="10.2" text-anchor="middle" fill="#231f20" color="#231f20" font-weight="normal">0</text>
<text x="140.68" y="330.80" font-size="10.2" text-anchor="middle" fill="#231f20" color="#231f20" font-weight="normal">5</text>
<text x="207.80" y="330.80" font-size="10.2" text-anchor="middle" fill="#231f20" color="#231f20" font-weight="normal">10</text>
<text x="13.50" y="252.00" font-size="11.2" text-anchor="middle" fill="#231f20" color="#231f20" font-weight="normal" transform="rotate(-90 13.50 252.00)">−ΔOD (×10<tspan dy="-4.5" font-size="8.5">−3</tspan><tspan dy="4.5">)</tspan></text>
<path d="M40.00,196.30 C44.67,196.30 62.87,196.18 68.00,196.30 C73.13,196.42 69.98,191.47 70.80,197.00 C71.62,202.53 72.23,219.95 72.90,229.50 C73.57,239.05 74.15,249.30 74.80,254.30 C75.45,259.30 75.87,259.63 76.80,259.50 C77.73,259.37 79.20,255.45 80.40,253.50 C81.60,251.55 82.73,250.22 84.00,247.80 C85.27,245.38 86.35,241.67 88.00,239.00 C89.65,236.33 91.27,234.32 93.90,231.80 C96.53,229.28 100.45,226.22 103.80,223.90 C107.15,221.58 109.32,219.85 114.00,217.90 C118.68,215.95 125.90,213.62 131.90,212.20 C137.90,210.78 141.98,210.37 150.00,209.40 C158.02,208.43 170.33,207.25 180.00,206.40 C189.67,205.55 203.33,204.65 208.00,204.30" fill="none" stroke="#4f5fb0" stroke-width="1.3" stroke-linejoin="round"/>
<path d="M40.00,196.30 C44.67,196.30 62.87,196.18 68.00,196.30 C73.13,196.42 70.07,194.93 70.80,197.00 C71.53,199.07 71.85,202.60 72.40,208.70 C72.95,214.80 73.53,228.13 74.10,233.60 C74.67,239.07 75.07,241.35 75.80,241.50 C76.53,241.65 77.55,237.92 78.50,234.50 C79.45,231.08 80.58,224.33 81.50,221.00 C82.42,217.67 82.75,216.70 84.00,214.50 C85.25,212.30 87.35,209.55 89.00,207.80 C90.65,206.05 92.17,204.97 93.90,204.00 C95.63,203.03 96.75,202.70 99.40,202.00 C102.05,201.30 104.38,200.30 109.80,199.80 C115.22,199.30 121.87,199.17 131.90,199.00 C141.93,198.83 157.32,198.88 170.00,198.80 C182.68,198.72 201.67,198.55 208.00,198.50" fill="none" stroke="#d9434f" stroke-width="1.3" stroke-linejoin="round"/>
<path d="M40.00,196.30 C44.67,196.30 62.87,196.18 68.00,196.30 C73.13,196.42 70.20,194.93 70.80,197.00 C71.40,199.07 71.20,198.10 71.60,208.70 C72.00,219.30 72.68,245.38 73.20,260.60 C73.72,275.82 74.28,292.40 74.70,300.00 C75.12,307.60 75.22,307.53 75.70,306.20 C76.18,304.87 76.88,297.42 77.60,292.00 C78.32,286.58 78.93,281.40 80.00,273.70 C81.07,266.00 82.67,252.58 84.00,245.80 C85.33,239.02 86.35,236.65 88.00,233.00 C89.65,229.35 91.27,227.42 93.90,223.90 C96.53,220.38 100.45,214.88 103.80,211.90 C107.15,208.92 109.32,207.42 114.00,206.00 C118.68,204.58 124.23,204.03 131.90,203.40 C139.57,202.77 147.32,202.60 160.00,202.20 C172.68,201.80 200.00,201.20 208.00,201.00" fill="none" stroke="#3c8a52" stroke-width="1.3" stroke-linejoin="round"/>
<circle cx="70.87" cy="195.23" r="1.9" fill="none" stroke="#6a74b4" stroke-width="0.7"/>
<circle cx="70.80" cy="197.00" r="1.9" fill="none" stroke="#6a74b4" stroke-width="0.7"/>
<circle cx="71.15" cy="200.23" r="1.9" fill="none" stroke="#6a74b4" stroke-width="0.7"/>
<circle cx="71.49" cy="204.66" r="1.9" fill="none" stroke="#6a74b4" stroke-width="0.7"/>
<circle cx="71.70" cy="208.08" r="1.9" fill="none" stroke="#6a74b4" stroke-width="0.7"/>
<circle cx="71.91" cy="211.74" r="1.9" fill="none" stroke="#6a74b4" stroke-width="0.7"/>
<circle cx="72.11" cy="215.53" r="1.9" fill="none" stroke="#6a74b4" stroke-width="0.7"/>
<circle cx="72.31" cy="219.31" r="1.9" fill="none" stroke="#6a74b4" stroke-width="0.7"/>
<circle cx="72.50" cy="222.98" r="1.9" fill="none" stroke="#6a74b4" stroke-width="0.7"/>
<circle cx="72.70" cy="226.42" r="1.9" fill="none" stroke="#6a74b4" stroke-width="0.7"/>
<circle cx="72.90" cy="229.50" r="1.9" fill="none" stroke="#6a74b4" stroke-width="0.7"/>
<circle cx="73.19" cy="233.82" r="1.9" fill="none" stroke="#6a74b4" stroke-width="0.7"/>
<circle cx="73.48" cy="238.12" r="1.9" fill="none" stroke="#6a74b4" stroke-width="0.7"/>
<circle cx="73.76" cy="242.28" r="1.9" fill="none" stroke="#6a74b4" stroke-width="0.7"/>
<circle cx="74.04" cy="246.16" r="1.9" fill="none" stroke="#6a74b4" stroke-width="0.7"/>
<circle cx="74.32" cy="249.66" r="1.9" fill="none" stroke="#6a74b4" stroke-width="0.7"/>
<circle cx="74.61" cy="252.65" r="1.9" fill="none" stroke="#6a74b4" stroke-width="0.7"/>
<circle cx="74.99" cy="255.66" r="1.9" fill="none" stroke="#6a74b4" stroke-width="0.7"/>
<circle cx="75.60" cy="258.60" r="1.9" fill="none" stroke="#6a74b4" stroke-width="0.7"/>
<circle cx="77.76" cy="258.51" r="1.9" fill="none" stroke="#6a74b4" stroke-width="0.7"/>
<circle cx="79.27" cy="255.63" r="1.9" fill="none" stroke="#6a74b4" stroke-width="0.7"/>
<circle cx="80.76" cy="252.93" r="1.9" fill="none" stroke="#6a74b4" stroke-width="0.7"/>
<circle cx="82.53" cy="250.29" r="1.9" fill="none" stroke="#6a74b4" stroke-width="0.7"/>
<circle cx="84.19" cy="247.43" r="1.9" fill="none" stroke="#6a74b4" stroke-width="0.7"/>
<circle cx="85.48" cy="244.43" r="1.9" fill="none" stroke="#6a74b4" stroke-width="0.7"/>
<circle cx="86.65" cy="241.62" r="1.9" fill="none" stroke="#6a74b4" stroke-width="0.7"/>
<circle cx="88.25" cy="238.60" r="1.9" fill="none" stroke="#6a74b4" stroke-width="0.7"/>
<circle cx="90.03" cy="236.04" r="1.9" fill="none" stroke="#6a74b4" stroke-width="0.7"/>
<circle cx="92.10" cy="233.61" r="1.9" fill="none" stroke="#6a74b4" stroke-width="0.7"/>
<circle cx="94.30" cy="231.42" r="1.9" fill="none" stroke="#6a74b4" stroke-width="0.7"/>
<circle cx="96.57" cy="229.42" r="1.9" fill="none" stroke="#6a74b4" stroke-width="0.7"/>
<circle cx="99.10" cy="227.36" r="1.9" fill="none" stroke="#6a74b4" stroke-width="0.7"/>
<circle cx="101.74" cy="225.37" r="1.9" fill="none" stroke="#6a74b4" stroke-width="0.7"/>
<circle cx="104.29" cy="223.56" r="1.9" fill="none" stroke="#6a74b4" stroke-width="0.7"/>
<circle cx="107.04" cy="221.65" r="1.9" fill="none" stroke="#6a74b4" stroke-width="0.7"/>
<circle cx="109.85" cy="219.90" r="1.9" fill="none" stroke="#6a74b4" stroke-width="0.7"/>
<circle cx="112.67" cy="218.48" r="1.9" fill="none" stroke="#6a74b4" stroke-width="0.7"/>
<circle cx="115.48" cy="217.30" r="1.9" fill="none" stroke="#6a74b4" stroke-width="0.7"/>
<circle cx="70.99" cy="196.00" r="1.9" fill="none" stroke="#d46a76" stroke-width="0.7"/>
<circle cx="71.28" cy="198.84" r="1.9" fill="none" stroke="#d46a76" stroke-width="0.7"/>
<circle cx="71.74" cy="201.92" r="1.9" fill="none" stroke="#d46a76" stroke-width="0.7"/>
<circle cx="72.09" cy="205.34" r="1.9" fill="none" stroke="#d46a76" stroke-width="0.7"/>
<circle cx="72.40" cy="208.70" r="1.9" fill="none" stroke="#d46a76" stroke-width="0.7"/>
<circle cx="72.65" cy="211.88" r="1.9" fill="none" stroke="#d46a76" stroke-width="0.7"/>
<circle cx="72.90" cy="215.74" r="1.9" fill="none" stroke="#d46a76" stroke-width="0.7"/>
<circle cx="73.16" cy="219.95" r="1.9" fill="none" stroke="#d46a76" stroke-width="0.7"/>
<circle cx="73.42" cy="224.23" r="1.9" fill="none" stroke="#d46a76" stroke-width="0.7"/>
<circle cx="73.67" cy="228.26" r="1.9" fill="none" stroke="#d46a76" stroke-width="0.7"/>
<circle cx="73.93" cy="231.74" r="1.9" fill="none" stroke="#d46a76" stroke-width="0.7"/>
<circle cx="74.27" cy="235.15" r="1.9" fill="none" stroke="#d46a76" stroke-width="0.7"/>
<circle cx="74.66" cy="238.22" r="1.9" fill="none" stroke="#d46a76" stroke-width="0.7"/>
<circle cx="75.40" cy="241.15" r="1.9" fill="none" stroke="#d46a76" stroke-width="0.7"/>
<circle cx="77.07" cy="239.34" r="1.9" fill="none" stroke="#d46a76" stroke-width="0.7"/>
<circle cx="78.07" cy="236.04" r="1.9" fill="none" stroke="#d46a76" stroke-width="0.7"/>
<circle cx="78.94" cy="232.76" r="1.9" fill="none" stroke="#d46a76" stroke-width="0.7"/>
<circle cx="79.70" cy="229.23" r="1.9" fill="none" stroke="#d46a76" stroke-width="0.7"/>
<circle cx="80.32" cy="226.21" r="1.9" fill="none" stroke="#d46a76" stroke-width="0.7"/>
<circle cx="81.07" cy="222.71" r="1.9" fill="none" stroke="#d46a76" stroke-width="0.7"/>
<circle cx="81.88" cy="219.65" r="1.9" fill="none" stroke="#d46a76" stroke-width="0.7"/>
<circle cx="82.84" cy="216.78" r="1.9" fill="none" stroke="#d46a76" stroke-width="0.7"/>
<circle cx="84.40" cy="213.83" r="1.9" fill="none" stroke="#d46a76" stroke-width="0.7"/>
<circle cx="86.09" cy="211.34" r="1.9" fill="none" stroke="#d46a76" stroke-width="0.7"/>
<circle cx="87.97" cy="208.96" r="1.9" fill="none" stroke="#d46a76" stroke-width="0.7"/>
<circle cx="90.22" cy="206.60" r="1.9" fill="none" stroke="#d46a76" stroke-width="0.7"/>
<circle cx="92.64" cy="204.76" r="1.9" fill="none" stroke="#d46a76" stroke-width="0.7"/>
<circle cx="95.35" cy="203.27" r="1.9" fill="none" stroke="#d46a76" stroke-width="0.7"/>
<circle cx="98.30" cy="202.29" r="1.9" fill="none" stroke="#d46a76" stroke-width="0.7"/>
<circle cx="71.03" cy="196.00" r="1.9" fill="none" stroke="#86a98e" stroke-width="0.7"/>
<circle cx="71.20" cy="198.68" r="1.9" fill="none" stroke="#86a98e" stroke-width="0.7"/>
<circle cx="71.36" cy="201.89" r="1.9" fill="none" stroke="#86a98e" stroke-width="0.7"/>
<circle cx="71.50" cy="205.85" r="1.9" fill="none" stroke="#86a98e" stroke-width="0.7"/>
<circle cx="71.66" cy="210.40" r="1.9" fill="none" stroke="#86a98e" stroke-width="0.7"/>
<circle cx="71.80" cy="214.43" r="1.9" fill="none" stroke="#86a98e" stroke-width="0.7"/>
<circle cx="71.95" cy="219.14" r="1.9" fill="none" stroke="#86a98e" stroke-width="0.7"/>
<circle cx="72.10" cy="224.39" r="1.9" fill="none" stroke="#86a98e" stroke-width="0.7"/>
<circle cx="72.27" cy="230.01" r="1.9" fill="none" stroke="#86a98e" stroke-width="0.7"/>
<circle cx="72.44" cy="235.86" r="1.9" fill="none" stroke="#86a98e" stroke-width="0.7"/>
<circle cx="72.62" cy="241.76" r="1.9" fill="none" stroke="#86a98e" stroke-width="0.7"/>
<circle cx="72.79" cy="247.56" r="1.9" fill="none" stroke="#86a98e" stroke-width="0.7"/>
<circle cx="72.96" cy="253.11" r="1.9" fill="none" stroke="#86a98e" stroke-width="0.7"/>
<circle cx="73.12" cy="258.24" r="1.9" fill="none" stroke="#86a98e" stroke-width="0.7"/>
<circle cx="73.28" cy="262.89" r="1.9" fill="none" stroke="#86a98e" stroke-width="0.7"/>
<circle cx="73.44" cy="267.50" r="1.9" fill="none" stroke="#86a98e" stroke-width="0.7"/>
<circle cx="73.59" cy="272.11" r="1.9" fill="none" stroke="#86a98e" stroke-width="0.7"/>
<circle cx="73.75" cy="276.64" r="1.9" fill="none" stroke="#86a98e" stroke-width="0.7"/>
<circle cx="73.91" cy="281.03" r="1.9" fill="none" stroke="#86a98e" stroke-width="0.7"/>
<circle cx="74.06" cy="285.23" r="1.9" fill="none" stroke="#86a98e" stroke-width="0.7"/>
<circle cx="74.22" cy="289.16" r="1.9" fill="none" stroke="#86a98e" stroke-width="0.7"/>
<circle cx="74.36" cy="292.78" r="1.9" fill="none" stroke="#86a98e" stroke-width="0.7"/>
<circle cx="74.50" cy="296.01" r="1.9" fill="none" stroke="#86a98e" stroke-width="0.7"/>
<circle cx="74.70" cy="300.00" r="1.9" fill="none" stroke="#86a98e" stroke-width="0.7"/>
<circle cx="74.92" cy="303.69" r="1.9" fill="none" stroke="#86a98e" stroke-width="0.7"/>
<circle cx="75.26" cy="306.78" r="1.9" fill="none" stroke="#86a98e" stroke-width="0.7"/>
<circle cx="76.19" cy="303.57" r="1.9" fill="none" stroke="#86a98e" stroke-width="0.7"/>
<circle cx="76.66" cy="299.81" r="1.9" fill="none" stroke="#86a98e" stroke-width="0.7"/>
<circle cx="77.07" cy="296.32" r="1.9" fill="none" stroke="#86a98e" stroke-width="0.7"/>
<circle cx="77.49" cy="292.83" r="1.9" fill="none" stroke="#86a98e" stroke-width="0.7"/>
<circle cx="77.92" cy="289.57" r="1.9" fill="none" stroke="#86a98e" stroke-width="0.7"/>
<circle cx="78.34" cy="286.28" r="1.9" fill="none" stroke="#86a98e" stroke-width="0.7"/>
<circle cx="78.78" cy="282.82" r="1.9" fill="none" stroke="#86a98e" stroke-width="0.7"/>
<circle cx="79.28" cy="279.05" r="1.9" fill="none" stroke="#86a98e" stroke-width="0.7"/>
<circle cx="79.69" cy="275.94" r="1.9" fill="none" stroke="#86a98e" stroke-width="0.7"/>
<circle cx="80.16" cy="272.50" r="1.9" fill="none" stroke="#86a98e" stroke-width="0.7"/>
<circle cx="80.70" cy="268.49" r="1.9" fill="none" stroke="#86a98e" stroke-width="0.7"/>
<circle cx="81.28" cy="264.04" r="1.9" fill="none" stroke="#86a98e" stroke-width="0.7"/>
<circle cx="81.69" cy="260.96" r="1.9" fill="none" stroke="#86a98e" stroke-width="0.7"/>
<circle cx="82.11" cy="257.86" r="1.9" fill="none" stroke="#86a98e" stroke-width="0.7"/>
<circle cx="82.54" cy="254.83" r="1.9" fill="none" stroke="#86a98e" stroke-width="0.7"/>
<circle cx="83.17" cy="250.57" r="1.9" fill="none" stroke="#86a98e" stroke-width="0.7"/>
<circle cx="83.80" cy="246.87" r="1.9" fill="none" stroke="#86a98e" stroke-width="0.7"/>
<circle cx="84.39" cy="243.89" r="1.9" fill="none" stroke="#86a98e" stroke-width="0.7"/>
<circle cx="85.14" cy="240.73" r="1.9" fill="none" stroke="#86a98e" stroke-width="0.7"/>
<circle cx="86.07" cy="237.67" r="1.9" fill="none" stroke="#86a98e" stroke-width="0.7"/>
<circle cx="87.30" cy="234.58" r="1.9" fill="none" stroke="#86a98e" stroke-width="0.7"/>
<circle cx="88.74" cy="231.46" r="1.9" fill="none" stroke="#86a98e" stroke-width="0.7"/>
<circle cx="90.30" cy="228.81" r="1.9" fill="none" stroke="#86a98e" stroke-width="0.7"/>
<circle cx="92.10" cy="226.29" r="1.9" fill="none" stroke="#86a98e" stroke-width="0.7"/>
<circle cx="94.30" cy="223.36" r="1.9" fill="none" stroke="#86a98e" stroke-width="0.7"/>
<circle cx="96.57" cy="220.32" r="1.9" fill="none" stroke="#86a98e" stroke-width="0.7"/>
<circle cx="98.58" cy="217.70" r="1.9" fill="none" stroke="#86a98e" stroke-width="0.7"/>
<circle cx="100.68" cy="215.14" r="1.9" fill="none" stroke="#86a98e" stroke-width="0.7"/>
<circle cx="102.78" cy="212.87" r="1.9" fill="none" stroke="#86a98e" stroke-width="0.7"/>
<circle cx="105.24" cy="210.65" r="1.9" fill="none" stroke="#86a98e" stroke-width="0.7"/>
<circle cx="107.94" cy="208.65" r="1.9" fill="none" stroke="#86a98e" stroke-width="0.7"/>
<circle cx="110.90" cy="207.10" r="1.9" fill="none" stroke="#86a98e" stroke-width="0.7"/>
<circle cx="46.00" cy="196.30" r="1.9" fill="none" stroke="#86a98e" stroke-width="0.7"/>
<circle cx="60.00" cy="196.30" r="1.9" fill="none" stroke="#86a98e" stroke-width="0.7"/>
<circle cx="64.00" cy="196.30" r="1.9" fill="none" stroke="#86a98e" stroke-width="0.7"/>
<circle cx="67.00" cy="196.30" r="1.9" fill="none" stroke="#86a98e" stroke-width="0.7"/>
<circle cx="106.00" cy="200.98" r="2.0" fill="none" stroke="#d46a76" stroke-width="0.8"/>
<circle cx="113.00" cy="200.11" r="2.0" fill="none" stroke="#d46a76" stroke-width="0.8"/>
<circle cx="127.00" cy="198.90" r="2.0" fill="none" stroke="#d46a76" stroke-width="0.8"/>
<circle cx="142.00" cy="198.84" r="2.0" fill="none" stroke="#d46a76" stroke-width="0.8"/>
<circle cx="152.00" cy="199.34" r="2.0" fill="none" stroke="#d46a76" stroke-width="0.8"/>
<circle cx="162.00" cy="198.63" r="2.0" fill="none" stroke="#d46a76" stroke-width="0.8"/>
<circle cx="175.00" cy="199.16" r="2.0" fill="none" stroke="#d46a76" stroke-width="0.8"/>
<circle cx="195.00" cy="198.58" r="2.0" fill="none" stroke="#d46a76" stroke-width="0.8"/>
<circle cx="118.00" cy="204.76" r="2.0" fill="none" stroke="#86a98e" stroke-width="0.8"/>
<circle cx="127.00" cy="203.76" r="2.0" fill="none" stroke="#86a98e" stroke-width="0.8"/>
<circle cx="142.00" cy="202.18" r="2.0" fill="none" stroke="#86a98e" stroke-width="0.8"/>
<circle cx="152.00" cy="202.21" r="2.0" fill="none" stroke="#86a98e" stroke-width="0.8"/>
<circle cx="162.00" cy="202.00" r="2.0" fill="none" stroke="#86a98e" stroke-width="0.8"/>
<circle cx="175.00" cy="201.02" r="2.0" fill="none" stroke="#86a98e" stroke-width="0.8"/>
<circle cx="195.00" cy="200.78" r="2.0" fill="none" stroke="#86a98e" stroke-width="0.8"/>
<circle cx="120.00" cy="215.28" r="2.0" fill="none" stroke="#6a74b4" stroke-width="0.8"/>
<circle cx="127.00" cy="214.05" r="2.0" fill="none" stroke="#6a74b4" stroke-width="0.8"/>
<circle cx="135.00" cy="211.67" r="2.0" fill="none" stroke="#6a74b4" stroke-width="0.8"/>
<circle cx="142.00" cy="210.04" r="2.0" fill="none" stroke="#6a74b4" stroke-width="0.8"/>
<circle cx="152.00" cy="209.96" r="2.0" fill="none" stroke="#6a74b4" stroke-width="0.8"/>
<circle cx="162.00" cy="207.71" r="2.0" fill="none" stroke="#6a74b4" stroke-width="0.8"/>
<circle cx="175.00" cy="206.87" r="2.0" fill="none" stroke="#6a74b4" stroke-width="0.8"/>
<circle cx="195.00" cy="205.61" r="2.0" fill="none" stroke="#6a74b4" stroke-width="0.8"/>
<text x="124.20" y="246.60" font-size="11" text-anchor="start" fill="#5a4fa0" color="#5a4fa0" font-weight="normal">3.10 eV</text>
<circle cx="127.00" cy="258.00" r="1.6" fill="none" stroke="#6a74b4" stroke-width="0.7"/>
<text x="132.60" y="261.60" font-size="9.2" text-anchor="start" fill="#231f20" color="#231f20" font-weight="normal">WS<tspan dy="3.4" font-size="7">2</tspan></text>
<circle cx="127.00" cy="277.40" r="1.6" fill="none" stroke="#d46a76" stroke-width="0.7"/>
<text x="132.60" y="281.00" font-size="9.2" text-anchor="start" fill="#231f20" color="#231f20" font-weight="normal">MoS<tspan dy="3.4" font-size="7">2</tspan></text>
<circle cx="127.00" cy="296.80" r="1.6" fill="none" stroke="#86a98e" stroke-width="0.7"/>
<text x="132.60" y="300.40" font-size="9.2" text-anchor="start" fill="#231f20" color="#231f20" font-weight="normal">MoS<tspan dy="3.4" font-size="7">2</tspan><tspan dy="-3.4">/WS</tspan><tspan dy="3.4" font-size="7">2</tspan></text>
<rect x="266.60" y="183.60" width="168.00" height="133.60" fill="none" stroke="#231f20" stroke-width="1.6"/>
<line x1="300.20" y1="317.20" x2="300.20" y2="314.20" stroke="#231f20" stroke-width="1.1"/>
<line x1="367.40" y1="317.20" x2="367.40" y2="314.20" stroke="#231f20" stroke-width="1.1"/>
<line x1="434.60" y1="317.20" x2="434.60" y2="314.20" stroke="#231f20" stroke-width="1.1"/>
<line x1="333.80" y1="317.20" x2="333.80" y2="315.10" stroke="#231f20" stroke-width="1.0"/>
<line x1="401.00" y1="317.20" x2="401.00" y2="315.10" stroke="#231f20" stroke-width="1.0"/>
<line x1="266.60" y1="306.07" x2="269.60" y2="306.07" stroke="#231f20" stroke-width="1.1"/>
<line x1="266.60" y1="250.40" x2="269.60" y2="250.40" stroke="#231f20" stroke-width="1.1"/>
<line x1="266.60" y1="194.73" x2="269.60" y2="194.73" stroke="#231f20" stroke-width="1.1"/>
<line x1="266.60" y1="278.23" x2="268.70" y2="278.23" stroke="#231f20" stroke-width="1.0"/>
<line x1="266.60" y1="222.57" x2="268.70" y2="222.57" stroke="#231f20" stroke-width="1.0"/>
<text x="261.60" y="310.37" font-size="10.2" text-anchor="end" fill="#231f20" color="#231f20" font-weight="normal">0.0</text>
<text x="261.60" y="254.70" font-size="10.2" text-anchor="end" fill="#231f20" color="#231f20" font-weight="normal">0.5</text>
<text x="261.60" y="199.03" font-size="10.2" text-anchor="end" fill="#231f20" color="#231f20" font-weight="normal">1.0</text>
<text x="300.20" y="330.80" font-size="10.2" text-anchor="middle" fill="#231f20" color="#231f20" font-weight="normal">0</text>
<text x="367.40" y="330.80" font-size="10.2" text-anchor="middle" fill="#231f20" color="#231f20" font-weight="normal">5</text>
<text x="434.60" y="330.80" font-size="10.2" text-anchor="middle" fill="#231f20" color="#231f20" font-weight="normal">10</text>
<text x="240.50" y="250.00" font-size="11" text-anchor="middle" fill="#231f20" color="#231f20" font-weight="normal" transform="rotate(-90 240.50 250.00)">Normalized ΔOD</text>
<path d="M266.60,305.80 C270.83,305.80 286.63,306.02 292.00,305.80 C297.37,305.58 297.50,312.13 298.80,304.50 C300.10,296.87 299.37,276.58 299.80,260.00 C300.23,243.42 300.90,215.92 301.40,205.00 C301.90,194.08 302.20,195.58 302.80,194.50 C303.40,193.42 304.02,195.93 305.00,198.50 C305.98,201.07 307.05,205.23 308.70,209.90 C310.35,214.57 312.83,221.67 314.90,226.50 C316.97,231.33 318.33,234.40 321.10,238.90 C323.87,243.40 328.03,249.17 331.50,253.50 C334.97,257.83 338.82,262.13 341.90,264.90 C344.98,267.67 347.50,268.70 350.00,270.10 C352.50,271.50 354.10,272.18 356.90,273.30 C359.70,274.42 361.28,275.18 366.80,276.80 C372.32,278.42 382.80,281.25 390.00,283.00 C397.20,284.75 402.57,286.05 410.00,287.30 C417.43,288.55 430.50,289.97 434.60,290.50" fill="none" stroke="#4f5fb0" stroke-width="1.3" stroke-linejoin="round"/>
<path d="M266.60,305.80 C269.83,305.80 282.10,305.63 286.00,305.80 C289.90,305.97 288.67,306.73 290.00,306.80 C291.33,306.87 292.57,306.83 294.00,306.20 C295.43,305.57 297.67,310.70 298.60,303.00 C299.53,295.30 299.23,276.33 299.60,260.00 C299.97,243.67 300.43,215.95 300.80,205.00 C301.17,194.05 301.38,195.30 301.80,194.30 C302.22,193.30 302.57,195.30 303.30,199.00 C304.03,202.70 305.05,208.42 306.20,216.50 C307.35,224.58 308.48,238.17 310.20,247.50 C311.92,256.83 314.03,265.83 316.50,272.50 C318.97,279.17 321.47,283.83 325.00,287.50 C328.53,291.17 332.38,292.83 337.70,294.50 C343.02,296.17 346.52,296.78 356.90,297.50 C367.28,298.22 387.05,298.48 400.00,298.80 C412.95,299.12 428.83,299.30 434.60,299.40" fill="none" stroke="#d9434f" stroke-width="1.3" stroke-linejoin="round"/>
<path d="M266.60,305.80 C270.83,305.80 286.73,306.02 292.00,305.80 C297.27,305.58 297.00,312.13 298.20,304.50 C299.40,296.87 298.85,276.58 299.20,260.00 C299.55,243.42 299.90,215.95 300.30,205.00 C300.70,194.05 301.07,195.57 301.60,194.30 C302.13,193.03 302.67,193.77 303.50,197.40 C304.33,201.03 305.40,207.80 306.60,216.10 C307.80,224.40 308.97,237.87 310.70,247.20 C312.43,256.53 314.57,265.52 317.00,272.10 C319.43,278.68 321.85,283.07 325.30,286.70 C328.75,290.33 333.58,292.18 337.70,293.90 C341.82,295.62 339.62,296.07 350.00,297.00 C360.38,297.93 385.90,299.00 400.00,299.50 C414.10,300.00 428.83,299.92 434.60,300.00" fill="none" stroke="#3c8a52" stroke-width="1.3" stroke-linejoin="round"/>
<circle cx="304.00" cy="196.12" r="2.0" fill="none" stroke="#6a74b4" stroke-width="0.8"/>
<circle cx="306.00" cy="201.33" r="2.0" fill="none" stroke="#6a74b4" stroke-width="0.8"/>
<circle cx="308.00" cy="208.41" r="2.0" fill="none" stroke="#6a74b4" stroke-width="0.8"/>
<circle cx="310.00" cy="213.55" r="2.0" fill="none" stroke="#6a74b4" stroke-width="0.8"/>
<circle cx="312.00" cy="219.54" r="2.0" fill="none" stroke="#6a74b4" stroke-width="0.8"/>
<circle cx="315.00" cy="226.72" r="2.0" fill="none" stroke="#6a74b4" stroke-width="0.8"/>
<circle cx="318.00" cy="234.30" r="2.0" fill="none" stroke="#6a74b4" stroke-width="0.8"/>
<circle cx="321.00" cy="239.17" r="2.0" fill="none" stroke="#6a74b4" stroke-width="0.8"/>
<circle cx="324.00" cy="242.53" r="2.0" fill="none" stroke="#6a74b4" stroke-width="0.8"/>
<circle cx="328.00" cy="248.21" r="2.0" fill="none" stroke="#6a74b4" stroke-width="0.8"/>
<circle cx="332.00" cy="255.05" r="2.0" fill="none" stroke="#6a74b4" stroke-width="0.8"/>
<circle cx="336.00" cy="258.30" r="2.0" fill="none" stroke="#6a74b4" stroke-width="0.8"/>
<circle cx="341.00" cy="263.12" r="2.0" fill="none" stroke="#6a74b4" stroke-width="0.8"/>
<circle cx="346.00" cy="267.42" r="2.0" fill="none" stroke="#6a74b4" stroke-width="0.8"/>
<circle cx="352.00" cy="271.12" r="2.0" fill="none" stroke="#6a74b4" stroke-width="0.8"/>
<circle cx="357.00" cy="274.24" r="2.0" fill="none" stroke="#6a74b4" stroke-width="0.8"/>
<circle cx="367.00" cy="276.66" r="2.0" fill="none" stroke="#6a74b4" stroke-width="0.8"/>
<circle cx="380.00" cy="280.89" r="2.0" fill="none" stroke="#6a74b4" stroke-width="0.8"/>
<circle cx="394.00" cy="284.64" r="2.0" fill="none" stroke="#6a74b4" stroke-width="0.8"/>
<circle cx="407.00" cy="285.95" r="2.0" fill="none" stroke="#6a74b4" stroke-width="0.8"/>
<circle cx="421.00" cy="289.08" r="2.0" fill="none" stroke="#6a74b4" stroke-width="0.8"/>
<circle cx="434.00" cy="291.42" r="2.0" fill="none" stroke="#6a74b4" stroke-width="0.8"/>
<circle cx="295.01" cy="306.41" r="2.0" fill="none" stroke="#d46a76" stroke-width="0.8"/>
<circle cx="298.07" cy="305.57" r="2.0" fill="none" stroke="#d46a76" stroke-width="0.8"/>
<circle cx="299.60" cy="298.27" r="2.0" fill="none" stroke="#d46a76" stroke-width="0.8"/>
<circle cx="299.23" cy="293.29" r="2.0" fill="none" stroke="#d46a76" stroke-width="0.8"/>
<circle cx="299.52" cy="286.49" r="2.0" fill="none" stroke="#d46a76" stroke-width="0.8"/>
<circle cx="299.03" cy="279.66" r="2.0" fill="none" stroke="#d46a76" stroke-width="0.8"/>
<circle cx="299.39" cy="272.94" r="2.0" fill="none" stroke="#d46a76" stroke-width="0.8"/>
<circle cx="299.97" cy="267.88" r="2.0" fill="none" stroke="#d46a76" stroke-width="0.8"/>
<circle cx="299.80" cy="261.89" r="2.0" fill="none" stroke="#d46a76" stroke-width="0.8"/>
<circle cx="299.50" cy="257.70" r="2.0" fill="none" stroke="#d46a76" stroke-width="0.8"/>
<circle cx="299.48" cy="251.99" r="2.0" fill="none" stroke="#d46a76" stroke-width="0.8"/>
<circle cx="300.46" cy="245.52" r="2.0" fill="none" stroke="#d46a76" stroke-width="0.8"/>
<circle cx="300.51" cy="239.32" r="2.0" fill="none" stroke="#d46a76" stroke-width="0.8"/>
<circle cx="299.98" cy="234.17" r="2.0" fill="none" stroke="#d46a76" stroke-width="0.8"/>
<circle cx="299.84" cy="227.43" r="2.0" fill="none" stroke="#d46a76" stroke-width="0.8"/>
<circle cx="300.27" cy="222.00" r="2.0" fill="none" stroke="#d46a76" stroke-width="0.8"/>
<circle cx="301.20" cy="215.62" r="2.0" fill="none" stroke="#d46a76" stroke-width="0.8"/>
<circle cx="300.68" cy="209.31" r="2.0" fill="none" stroke="#d46a76" stroke-width="0.8"/>
<circle cx="300.92" cy="203.05" r="2.0" fill="none" stroke="#d46a76" stroke-width="0.8"/>
<circle cx="301.46" cy="197.82" r="2.0" fill="none" stroke="#d46a76" stroke-width="0.8"/>
<circle cx="302.41" cy="194.20" r="2.0" fill="none" stroke="#d46a76" stroke-width="0.8"/>
<circle cx="304.21" cy="200.39" r="2.0" fill="none" stroke="#d46a76" stroke-width="0.8"/>
<circle cx="305.04" cy="205.91" r="2.0" fill="none" stroke="#d46a76" stroke-width="0.8"/>
<circle cx="305.04" cy="210.93" r="2.0" fill="none" stroke="#d46a76" stroke-width="0.8"/>
<circle cx="306.12" cy="216.86" r="2.0" fill="none" stroke="#d46a76" stroke-width="0.8"/>
<circle cx="307.37" cy="221.55" r="2.0" fill="none" stroke="#d46a76" stroke-width="0.8"/>
<circle cx="307.29" cy="228.50" r="2.0" fill="none" stroke="#d46a76" stroke-width="0.8"/>
<circle cx="308.06" cy="232.69" r="2.0" fill="none" stroke="#d46a76" stroke-width="0.8"/>
<circle cx="308.37" cy="238.30" r="2.0" fill="none" stroke="#d46a76" stroke-width="0.8"/>
<circle cx="309.84" cy="245.23" r="2.0" fill="none" stroke="#d46a76" stroke-width="0.8"/>
<circle cx="310.77" cy="250.44" r="2.0" fill="none" stroke="#d46a76" stroke-width="0.8"/>
<circle cx="311.36" cy="255.64" r="2.0" fill="none" stroke="#d46a76" stroke-width="0.8"/>
<circle cx="312.76" cy="261.27" r="2.0" fill="none" stroke="#d46a76" stroke-width="0.8"/>
<circle cx="314.05" cy="265.52" r="2.0" fill="none" stroke="#d46a76" stroke-width="0.8"/>
<circle cx="315.95" cy="271.44" r="2.0" fill="none" stroke="#d46a76" stroke-width="0.8"/>
<circle cx="317.77" cy="276.42" r="2.0" fill="none" stroke="#d46a76" stroke-width="0.8"/>
<circle cx="319.90" cy="281.66" r="2.0" fill="none" stroke="#d46a76" stroke-width="0.8"/>
<circle cx="323.75" cy="285.83" r="2.0" fill="none" stroke="#d46a76" stroke-width="0.8"/>
<circle cx="326.55" cy="289.23" r="2.0" fill="none" stroke="#d46a76" stroke-width="0.8"/>
<circle cx="332.22" cy="292.58" r="2.0" fill="none" stroke="#d46a76" stroke-width="0.8"/>
<circle cx="337.35" cy="294.80" r="2.0" fill="none" stroke="#d46a76" stroke-width="0.8"/>
<circle cx="294.76" cy="306.57" r="2.0" fill="none" stroke="#86a98e" stroke-width="0.8"/>
<circle cx="297.79" cy="305.02" r="2.0" fill="none" stroke="#86a98e" stroke-width="0.8"/>
<circle cx="298.13" cy="299.93" r="2.0" fill="none" stroke="#86a98e" stroke-width="0.8"/>
<circle cx="298.30" cy="294.71" r="2.0" fill="none" stroke="#86a98e" stroke-width="0.8"/>
<circle cx="299.28" cy="288.09" r="2.0" fill="none" stroke="#86a98e" stroke-width="0.8"/>
<circle cx="299.30" cy="280.25" r="2.0" fill="none" stroke="#86a98e" stroke-width="0.8"/>
<circle cx="298.64" cy="275.58" r="2.0" fill="none" stroke="#86a98e" stroke-width="0.8"/>
<circle cx="299.61" cy="270.15" r="2.0" fill="none" stroke="#86a98e" stroke-width="0.8"/>
<circle cx="298.43" cy="264.40" r="2.0" fill="none" stroke="#86a98e" stroke-width="0.8"/>
<circle cx="298.93" cy="260.16" r="2.0" fill="none" stroke="#86a98e" stroke-width="0.8"/>
<circle cx="298.72" cy="254.34" r="2.0" fill="none" stroke="#86a98e" stroke-width="0.8"/>
<circle cx="299.66" cy="249.64" r="2.0" fill="none" stroke="#86a98e" stroke-width="0.8"/>
<circle cx="299.29" cy="243.02" r="2.0" fill="none" stroke="#86a98e" stroke-width="0.8"/>
<circle cx="299.65" cy="235.96" r="2.0" fill="none" stroke="#86a98e" stroke-width="0.8"/>
<circle cx="299.49" cy="229.88" r="2.0" fill="none" stroke="#86a98e" stroke-width="0.8"/>
<circle cx="299.49" cy="224.69" r="2.0" fill="none" stroke="#86a98e" stroke-width="0.8"/>
<circle cx="300.21" cy="217.93" r="2.0" fill="none" stroke="#86a98e" stroke-width="0.8"/>
<circle cx="299.47" cy="213.65" r="2.0" fill="none" stroke="#86a98e" stroke-width="0.8"/>
<circle cx="299.68" cy="206.51" r="2.0" fill="none" stroke="#86a98e" stroke-width="0.8"/>
<circle cx="300.16" cy="200.23" r="2.0" fill="none" stroke="#86a98e" stroke-width="0.8"/>
<circle cx="300.31" cy="195.20" r="2.0" fill="none" stroke="#86a98e" stroke-width="0.8"/>
<circle cx="303.12" cy="197.00" r="2.0" fill="none" stroke="#86a98e" stroke-width="0.8"/>
<circle cx="304.50" cy="201.11" r="2.0" fill="none" stroke="#86a98e" stroke-width="0.8"/>
<circle cx="305.48" cy="206.66" r="2.0" fill="none" stroke="#86a98e" stroke-width="0.8"/>
<circle cx="306.09" cy="212.22" r="2.0" fill="none" stroke="#86a98e" stroke-width="0.8"/>
<circle cx="307.59" cy="218.53" r="2.0" fill="none" stroke="#86a98e" stroke-width="0.8"/>
<circle cx="308.11" cy="224.91" r="2.0" fill="none" stroke="#86a98e" stroke-width="0.8"/>
<circle cx="308.93" cy="231.41" r="2.0" fill="none" stroke="#86a98e" stroke-width="0.8"/>
<circle cx="309.58" cy="236.15" r="2.0" fill="none" stroke="#86a98e" stroke-width="0.8"/>
<circle cx="310.21" cy="242.92" r="2.0" fill="none" stroke="#86a98e" stroke-width="0.8"/>
<circle cx="311.00" cy="248.69" r="2.0" fill="none" stroke="#86a98e" stroke-width="0.8"/>
<circle cx="312.12" cy="253.95" r="2.0" fill="none" stroke="#86a98e" stroke-width="0.8"/>
<circle cx="313.83" cy="259.59" r="2.0" fill="none" stroke="#86a98e" stroke-width="0.8"/>
<circle cx="314.63" cy="263.77" r="2.0" fill="none" stroke="#86a98e" stroke-width="0.8"/>
<circle cx="316.29" cy="269.60" r="2.0" fill="none" stroke="#86a98e" stroke-width="0.8"/>
<circle cx="317.70" cy="274.83" r="2.0" fill="none" stroke="#86a98e" stroke-width="0.8"/>
<circle cx="320.43" cy="279.43" r="2.0" fill="none" stroke="#86a98e" stroke-width="0.8"/>
<circle cx="323.02" cy="284.46" r="2.0" fill="none" stroke="#86a98e" stroke-width="0.8"/>
<circle cx="326.90" cy="288.08" r="2.0" fill="none" stroke="#86a98e" stroke-width="0.8"/>
<circle cx="330.70" cy="290.84" r="2.0" fill="none" stroke="#86a98e" stroke-width="0.8"/>
<circle cx="336.02" cy="293.17" r="2.0" fill="none" stroke="#86a98e" stroke-width="0.8"/>
<circle cx="272.00" cy="305.94" r="2.0" fill="none" stroke="#86a98e" stroke-width="0.8"/>
<circle cx="286.00" cy="306.72" r="2.0" fill="none" stroke="#86a98e" stroke-width="0.8"/>
<circle cx="294.00" cy="306.62" r="2.0" fill="none" stroke="#86a98e" stroke-width="0.8"/>
<circle cx="345.00" cy="296.91" r="2.0" fill="none" stroke="#86a98e" stroke-width="0.8"/>
<circle cx="352.00" cy="296.04" r="2.0" fill="none" stroke="#86a98e" stroke-width="0.8"/>
<circle cx="360.00" cy="297.24" r="2.0" fill="none" stroke="#86a98e" stroke-width="0.8"/>
<circle cx="367.00" cy="298.52" r="2.0" fill="none" stroke="#86a98e" stroke-width="0.8"/>
<circle cx="380.00" cy="297.88" r="2.0" fill="none" stroke="#86a98e" stroke-width="0.8"/>
<circle cx="394.00" cy="300.27" r="2.0" fill="none" stroke="#86a98e" stroke-width="0.8"/>
<circle cx="407.00" cy="298.84" r="2.0" fill="none" stroke="#86a98e" stroke-width="0.8"/>
<circle cx="421.00" cy="300.82" r="2.0" fill="none" stroke="#86a98e" stroke-width="0.8"/>
<circle cx="433.00" cy="299.30" r="2.0" fill="none" stroke="#86a98e" stroke-width="0.8"/>
<circle cx="344.00" cy="296.80" r="2.0" fill="none" stroke="#d46a76" stroke-width="0.8"/>
<circle cx="350.00" cy="297.63" r="2.0" fill="none" stroke="#d46a76" stroke-width="0.8"/>
<circle cx="358.00" cy="297.24" r="2.0" fill="none" stroke="#d46a76" stroke-width="0.8"/>
<circle cx="367.00" cy="298.77" r="2.0" fill="none" stroke="#d46a76" stroke-width="0.8"/>
<circle cx="380.00" cy="297.68" r="2.0" fill="none" stroke="#d46a76" stroke-width="0.8"/>
<circle cx="394.00" cy="299.36" r="2.0" fill="none" stroke="#d46a76" stroke-width="0.8"/>
<circle cx="407.00" cy="298.72" r="2.0" fill="none" stroke="#d46a76" stroke-width="0.8"/>
<circle cx="421.00" cy="299.08" r="2.0" fill="none" stroke="#d46a76" stroke-width="0.8"/>
<text x="348.80" y="209.80" font-size="11" text-anchor="start" fill="#5a4fa0" color="#5a4fa0" font-weight="normal">3.10 eV</text>
<circle cx="354.00" cy="223.20" r="1.6" fill="none" stroke="#6a74b4" stroke-width="0.7"/>
<text x="359.60" y="226.80" font-size="9.2" text-anchor="start" fill="#231f20" color="#231f20" font-weight="normal">WS<tspan dy="3.4" font-size="7">2</tspan></text>
<circle cx="354.00" cy="241.40" r="1.6" fill="none" stroke="#d46a76" stroke-width="0.7"/>
<text x="359.60" y="245.00" font-size="9.2" text-anchor="start" fill="#231f20" color="#231f20" font-weight="normal">MoS<tspan dy="3.4" font-size="7">2</tspan></text>
<circle cx="354.00" cy="259.60" r="1.6" fill="none" stroke="#86a98e" stroke-width="0.7"/>
<text x="359.60" y="263.20" font-size="9.2" text-anchor="start" fill="#231f20" color="#231f20" font-weight="normal">MoS<tspan dy="3.4" font-size="7">2</tspan><tspan dy="-3.4">/WS</tspan><tspan dy="3.4" font-size="7">2</tspan></text>
<rect x="493.60" y="183.60" width="167.40" height="133.60" fill="none" stroke="#231f20" stroke-width="1.6"/>
<line x1="527.08" y1="317.20" x2="527.08" y2="314.20" stroke="#231f20" stroke-width="1.1"/>
<line x1="594.04" y1="317.20" x2="594.04" y2="314.20" stroke="#231f20" stroke-width="1.1"/>
<line x1="661.00" y1="317.20" x2="661.00" y2="314.20" stroke="#231f20" stroke-width="1.1"/>
<line x1="560.56" y1="317.20" x2="560.56" y2="315.10" stroke="#231f20" stroke-width="1.0"/>
<line x1="627.52" y1="317.20" x2="627.52" y2="315.10" stroke="#231f20" stroke-width="1.0"/>
<line x1="493.60" y1="195.75" x2="496.60" y2="195.75" stroke="#231f20" stroke-width="1.1"/>
<line x1="493.60" y1="232.18" x2="496.60" y2="232.18" stroke="#231f20" stroke-width="1.1"/>
<line x1="493.60" y1="268.62" x2="496.60" y2="268.62" stroke="#231f20" stroke-width="1.1"/>
<line x1="493.60" y1="305.05" x2="496.60" y2="305.05" stroke="#231f20" stroke-width="1.1"/>
<line x1="493.60" y1="213.96" x2="495.70" y2="213.96" stroke="#231f20" stroke-width="1.0"/>
<line x1="493.60" y1="250.40" x2="495.70" y2="250.40" stroke="#231f20" stroke-width="1.0"/>
<line x1="493.60" y1="286.84" x2="495.70" y2="286.84" stroke="#231f20" stroke-width="1.0"/>
<text x="488.60" y="200.05" font-size="10.2" text-anchor="end" fill="#231f20" color="#231f20" font-weight="normal">0</text>
<text x="488.60" y="236.48" font-size="10.2" text-anchor="end" fill="#231f20" color="#231f20" font-weight="normal">−3</text>
<text x="488.60" y="272.92" font-size="10.2" text-anchor="end" fill="#231f20" color="#231f20" font-weight="normal">−6</text>
<text x="488.60" y="309.35" font-size="10.2" text-anchor="end" fill="#231f20" color="#231f20" font-weight="normal">−9</text>
<text x="527.08" y="330.80" font-size="10.2" text-anchor="middle" fill="#231f20" color="#231f20" font-weight="normal">0</text>
<text x="594.04" y="330.80" font-size="10.2" text-anchor="middle" fill="#231f20" color="#231f20" font-weight="normal">5</text>
<text x="661.00" y="330.80" font-size="10.2" text-anchor="middle" fill="#231f20" color="#231f20" font-weight="normal">10</text>
<text x="467.00" y="252.00" font-size="11.2" text-anchor="middle" fill="#231f20" color="#231f20" font-weight="normal" transform="rotate(-90 467.00 252.00)">−ΔOD (×10<tspan dy="-4.5" font-size="8.5">−3</tspan><tspan dy="4.5">)</tspan></text>
<path d="M493.60,195.90 C498.00,195.90 514.92,195.80 520.00,195.90 C525.08,196.00 523.28,194.37 524.10,196.50 C524.92,198.63 524.67,199.75 524.90,208.70 C525.13,217.65 525.22,238.10 525.50,250.20 C525.78,262.30 526.00,272.83 526.60,281.30 C527.20,289.77 528.23,299.97 529.10,301.00 C529.97,302.03 530.83,294.23 531.80,287.50 C532.77,280.77 533.70,268.55 534.90,260.60 C536.10,252.65 537.28,246.03 539.00,239.80 C540.72,233.57 542.78,227.87 545.20,223.20 C547.62,218.53 550.38,214.55 553.50,211.80 C556.62,209.05 559.17,208.18 563.90,206.70 C568.63,205.22 576.75,203.68 581.90,202.90 C587.05,202.12 588.45,202.32 594.80,202.00 C601.15,201.68 608.97,201.28 620.00,201.00 C631.03,200.72 654.17,200.42 661.00,200.30" fill="none" stroke="#3c8a52" stroke-width="1.3" stroke-linejoin="round"/>
<path d="M493.60,195.90 C498.00,195.90 514.92,195.80 520.00,195.90 C525.08,196.00 523.28,194.37 524.10,196.50 C524.92,198.63 524.67,199.75 524.90,208.70 C525.13,217.65 525.22,238.10 525.50,250.20 C525.78,262.30 526.00,272.83 526.60,281.30 C527.20,289.77 528.42,298.58 529.10,301.00 C529.78,303.42 529.92,300.12 530.70,295.80 C531.48,291.48 532.42,282.70 533.80,275.10 C535.18,267.50 536.75,256.42 539.00,250.20 C541.25,243.98 544.18,241.43 547.30,237.80 C550.42,234.17 554.58,230.83 557.70,228.40 C560.82,225.97 561.97,225.10 566.00,223.20 C570.03,221.30 577.10,218.78 581.90,217.00 C586.70,215.22 588.45,213.83 594.80,212.50 C601.15,211.17 608.97,210.15 620.00,209.00 C631.03,207.85 654.17,206.17 661.00,205.60" fill="none" stroke="#ea8a3a" stroke-width="1.3" stroke-linejoin="round"/>
<circle cx="500.28" cy="195.88" r="0.75" fill="#24603a"/>
<circle cx="506.54" cy="195.86" r="0.75" fill="#24603a"/>
<circle cx="512.89" cy="195.86" r="0.75" fill="#24603a"/>
<circle cx="518.14" cy="195.88" r="0.75" fill="#24603a"/>
<circle cx="523.22" cy="195.60" r="0.75" fill="#24603a"/>
<circle cx="524.72" cy="200.04" r="0.75" fill="#24603a"/>
<circle cx="524.82" cy="205.17" r="0.75" fill="#24603a"/>
<circle cx="524.97" cy="211.71" r="0.75" fill="#24603a"/>
<circle cx="525.05" cy="217.26" r="0.75" fill="#24603a"/>
<circle cx="525.13" cy="223.69" r="0.75" fill="#24603a"/>
<circle cx="525.21" cy="230.60" r="0.75" fill="#24603a"/>
<circle cx="525.29" cy="237.59" r="0.75" fill="#24603a"/>
<circle cx="525.38" cy="244.26" r="0.75" fill="#24603a"/>
<circle cx="525.50" cy="250.20" r="0.75" fill="#24603a"/>
<circle cx="525.62" cy="255.54" r="0.75" fill="#24603a"/>
<circle cx="525.75" cy="260.65" r="0.75" fill="#24603a"/>
<circle cx="525.93" cy="267.11" r="0.75" fill="#24603a"/>
<circle cx="526.15" cy="273.14" r="0.75" fill="#24603a"/>
<circle cx="526.43" cy="278.70" r="0.75" fill="#24603a"/>
<circle cx="526.79" cy="283.88" r="0.75" fill="#24603a"/>
<circle cx="527.24" cy="289.09" r="0.75" fill="#24603a"/>
<circle cx="527.88" cy="295.03" r="0.75" fill="#24603a"/>
<circle cx="528.84" cy="300.43" r="0.75" fill="#24603a"/>
<circle cx="530.55" cy="296.34" r="0.75" fill="#24603a"/>
<circle cx="531.37" cy="290.57" r="0.75" fill="#24603a"/>
<circle cx="532.09" cy="285.33" r="0.75" fill="#24603a"/>
<circle cx="532.67" cy="280.22" r="0.75" fill="#24603a"/>
<circle cx="533.26" cy="274.51" r="0.75" fill="#24603a"/>
<circle cx="533.88" cy="268.64" r="0.75" fill="#24603a"/>
<circle cx="534.55" cy="263.10" r="0.75" fill="#24603a"/>
<circle cx="535.44" cy="257.11" r="0.75" fill="#24603a"/>
<circle cx="536.37" cy="251.64" r="0.75" fill="#24603a"/>
<circle cx="537.37" cy="246.53" r="0.75" fill="#24603a"/>
<circle cx="538.75" cy="240.74" r="0.75" fill="#24603a"/>
<circle cx="540.35" cy="235.23" r="0.75" fill="#24603a"/>
<circle cx="542.15" cy="230.08" r="0.75" fill="#24603a"/>
<circle cx="544.14" cy="225.37" r="0.75" fill="#24603a"/>
<circle cx="546.69" cy="220.49" r="0.75" fill="#24603a"/>
<circle cx="549.51" cy="216.21" r="0.75" fill="#24603a"/>
<circle cx="553.04" cy="212.22" r="0.75" fill="#24603a"/>
<circle cx="557.14" cy="209.24" r="0.75" fill="#24603a"/>
<circle cx="561.91" cy="207.33" r="0.75" fill="#24603a"/>
<circle cx="567.10" cy="205.81" r="0.75" fill="#24603a"/>
<circle cx="572.74" cy="204.54" r="0.75" fill="#24603a"/>
<circle cx="578.50" cy="203.45" r="0.75" fill="#24603a"/>
<circle cx="583.99" cy="202.61" r="0.75" fill="#24603a"/>
<circle cx="589.00" cy="202.23" r="0.75" fill="#24603a"/>
<circle cx="594.80" cy="202.00" r="0.75" fill="#24603a"/>
<circle cx="599.86" cy="201.75" r="0.75" fill="#24603a"/>
<circle cx="605.64" cy="201.49" r="0.75" fill="#24603a"/>
<circle cx="610.89" cy="201.28" r="0.75" fill="#24603a"/>
<circle cx="616.78" cy="201.09" r="0.75" fill="#24603a"/>
<circle cx="623.64" cy="200.91" r="0.75" fill="#24603a"/>
<circle cx="630.10" cy="200.79" r="0.75" fill="#24603a"/>
<circle cx="637.23" cy="200.66" r="0.75" fill="#24603a"/>
<circle cx="644.46" cy="200.55" r="0.75" fill="#24603a"/>
<circle cx="651.22" cy="200.45" r="0.75" fill="#24603a"/>
<circle cx="656.92" cy="200.36" r="0.75" fill="#24603a"/>
<circle cx="500.28" cy="195.88" r="0.75" fill="#b0581c"/>
<circle cx="506.54" cy="195.86" r="0.75" fill="#b0581c"/>
<circle cx="512.89" cy="195.86" r="0.75" fill="#b0581c"/>
<circle cx="518.14" cy="195.88" r="0.75" fill="#b0581c"/>
<circle cx="523.22" cy="195.60" r="0.75" fill="#b0581c"/>
<circle cx="524.72" cy="200.04" r="0.75" fill="#b0581c"/>
<circle cx="524.82" cy="205.17" r="0.75" fill="#b0581c"/>
<circle cx="524.97" cy="211.71" r="0.75" fill="#b0581c"/>
<circle cx="525.05" cy="217.26" r="0.75" fill="#b0581c"/>
<circle cx="525.13" cy="223.69" r="0.75" fill="#b0581c"/>
<circle cx="525.21" cy="230.60" r="0.75" fill="#b0581c"/>
<circle cx="525.29" cy="237.59" r="0.75" fill="#b0581c"/>
<circle cx="525.38" cy="244.26" r="0.75" fill="#b0581c"/>
<circle cx="525.50" cy="250.20" r="0.75" fill="#b0581c"/>
<circle cx="525.62" cy="255.54" r="0.75" fill="#b0581c"/>
<circle cx="525.75" cy="260.65" r="0.75" fill="#b0581c"/>
<circle cx="525.93" cy="267.11" r="0.75" fill="#b0581c"/>
<circle cx="526.15" cy="273.14" r="0.75" fill="#b0581c"/>
<circle cx="526.43" cy="278.70" r="0.75" fill="#b0581c"/>
<circle cx="526.80" cy="283.84" r="0.75" fill="#b0581c"/>
<circle cx="527.28" cy="288.83" r="0.75" fill="#b0581c"/>
<circle cx="527.96" cy="294.46" r="0.75" fill="#b0581c"/>
<circle cx="528.76" cy="299.50" r="0.75" fill="#b0581c"/>
<circle cx="530.14" cy="299.28" r="0.75" fill="#b0581c"/>
<circle cx="531.06" cy="293.58" r="0.75" fill="#b0581c"/>
<circle cx="531.88" cy="287.77" r="0.75" fill="#b0581c"/>
<circle cx="532.67" cy="282.11" r="0.75" fill="#b0581c"/>
<circle cx="533.60" cy="276.25" r="0.75" fill="#b0581c"/>
<circle cx="534.66" cy="270.19" r="0.75" fill="#b0581c"/>
<circle cx="535.58" cy="264.84" r="0.75" fill="#b0581c"/>
<circle cx="536.60" cy="259.46" r="0.75" fill="#b0581c"/>
<circle cx="537.73" cy="254.45" r="0.75" fill="#b0581c"/>
<circle cx="539.34" cy="249.29" r="0.75" fill="#b0581c"/>
<circle cx="541.59" cy="244.82" r="0.75" fill="#b0581c"/>
<circle cx="545.00" cy="240.40" r="0.75" fill="#b0581c"/>
<circle cx="548.77" cy="236.19" r="0.75" fill="#b0581c"/>
<circle cx="552.50" cy="232.65" r="0.75" fill="#b0581c"/>
<circle cx="556.74" cy="229.16" r="0.75" fill="#b0581c"/>
<circle cx="560.81" cy="226.07" r="0.75" fill="#b0581c"/>
<circle cx="565.42" cy="223.48" r="0.75" fill="#b0581c"/>
<circle cx="570.31" cy="221.36" r="0.75" fill="#b0581c"/>
<circle cx="575.39" cy="219.41" r="0.75" fill="#b0581c"/>
<circle cx="580.40" cy="217.56" r="0.75" fill="#b0581c"/>
<circle cx="585.60" cy="215.49" r="0.75" fill="#b0581c"/>
<circle cx="590.78" cy="213.51" r="0.75" fill="#b0581c"/>
<circle cx="595.76" cy="212.30" r="0.75" fill="#b0581c"/>
<circle cx="600.96" cy="211.37" r="0.75" fill="#b0581c"/>
<circle cx="606.90" cy="210.51" r="0.75" fill="#b0581c"/>
<circle cx="612.30" cy="209.84" r="0.75" fill="#b0581c"/>
<circle cx="618.37" cy="209.17" r="0.75" fill="#b0581c"/>
<circle cx="623.64" cy="208.64" r="0.75" fill="#b0581c"/>
<circle cx="630.10" cy="208.06" r="0.75" fill="#b0581c"/>
<circle cx="637.23" cy="207.47" r="0.75" fill="#b0581c"/>
<circle cx="644.46" cy="206.89" r="0.75" fill="#b0581c"/>
<circle cx="651.22" cy="206.37" r="0.75" fill="#b0581c"/>
<circle cx="656.92" cy="205.92" r="0.75" fill="#b0581c"/>
<text x="572.40" y="257.40" font-size="11" text-anchor="start" fill="#5a4fa0" color="#5a4fa0" font-weight="normal">3.10 eV</text>
<line x1="552.70" y1="270.50" x2="571.00" y2="270.50" stroke="#5e9a70" stroke-width="1.1"/>
<circle cx="561.80" cy="270.50" r="0.8" fill="#3a6a48"/>
<line x1="552.70" y1="285.20" x2="571.00" y2="285.20" stroke="#e8955a" stroke-width="1.1"/>
<circle cx="561.80" cy="285.20" r="0.8" fill="#b06a40"/>
<text x="575.00" y="274.00" font-size="9.6" text-anchor="start" fill="#231f20" color="#231f20" font-weight="normal">Heterostructure</text>
<text x="575.00" y="288.70" font-size="9.6" text-anchor="start" fill="#231f20" color="#231f20" font-weight="normal">Sum of two</text>
<text x="575.00" y="301.00" font-size="9.6" text-anchor="start" fill="#231f20" color="#231f20" font-weight="normal">monolayers</text>
<text x="124.00" y="345.60" font-size="11" text-anchor="middle" fill="#231f20" color="#231f20" font-weight="normal">Waiting time (ps)</text>
<text x="350.60" y="345.60" font-size="11" text-anchor="middle" fill="#231f20" color="#231f20" font-weight="normal">Waiting time (ps)</text>
<text x="577.40" y="345.60" font-size="11" text-anchor="middle" fill="#231f20" color="#231f20" font-weight="normal">Waiting time (ps)</text>
<rect x="33.6" y="400" width="361.4" height="164.39999999999998" fill="#97c59b"/>
<path d="M33.60,458.00 C35.70,457.72 42.30,455.98 46.20,456.30 C50.10,456.62 52.95,458.63 57.00,459.90 C61.05,461.17 66.00,463.90 70.50,463.90 C75.00,463.90 79.50,461.70 84.00,459.90 C88.50,458.10 93.40,453.10 97.50,453.10 C101.60,453.10 106.75,458.77 108.60,459.90 L108.6,559 L33.6,559 Z" fill="#8dc6bf"/>
<path d="M33.60,499.60 C35.39,499.60 40.74,499.60 44.31,499.60 C47.89,499.60 51.46,499.60 55.03,499.60 C58.60,499.60 62.17,499.60 65.74,499.60 C69.31,499.60 72.89,499.60 76.46,499.60 C80.03,499.60 83.60,499.60 87.17,499.60 C90.74,499.60 94.31,499.60 97.89,499.60 C101.46,499.60 106.81,499.60 108.60,499.60 L108.6,564.4 L33.6,564.4 Z" fill="#88cae6"/>
<path d="M33.60,514.72 C35.39,514.68 40.74,514.55 44.31,514.47 C47.89,514.39 51.46,514.30 55.03,514.23 C58.60,514.16 62.17,514.09 65.74,514.05 C69.31,514.01 72.89,513.99 76.46,513.99 C80.03,513.98 83.60,514.01 87.17,514.05 C90.74,514.09 94.31,514.15 97.89,514.23 C101.46,514.30 106.81,514.45 108.60,514.49 L108.6,564.4 L33.6,564.4 Z" fill="#6cb6e9"/>
<path d="M33.60,522.42 C35.39,522.41 40.74,522.35 44.31,522.34 C47.89,522.34 51.46,522.35 55.03,522.39 C58.60,522.42 62.17,522.49 65.74,522.56 C69.31,522.63 72.89,522.72 76.46,522.82 C80.03,522.91 83.60,523.03 87.17,523.13 C90.74,523.23 94.31,523.33 97.89,523.42 C101.46,523.51 106.81,523.61 108.60,523.65 L108.6,564.4 L33.6,564.4 Z" fill="#5a7fc8"/>
<path d="M33.60,528.92 C35.39,528.96 40.74,529.08 44.31,529.17 C47.89,529.26 51.46,529.37 55.03,529.47 C58.60,529.57 62.17,529.68 65.74,529.77 C69.31,529.86 72.89,529.95 76.46,530.02 C80.03,530.08 83.60,530.13 87.17,530.16 C90.74,530.18 94.31,530.18 97.89,530.17 C101.46,530.15 106.81,530.08 108.60,530.06 L108.6,564.4 L33.6,564.4 Z" fill="#4b5eb4"/>
<path d="M33.60,538.42 C35.39,538.47 40.74,538.65 44.31,538.74 C47.89,538.83 51.46,538.91 55.03,538.97 C58.60,539.02 62.17,539.06 65.74,539.07 C69.31,539.09 72.89,539.07 76.46,539.05 C80.03,539.03 83.60,538.98 87.17,538.93 C90.74,538.88 94.31,538.81 97.89,538.75 C101.46,538.69 106.81,538.61 108.60,538.58 L108.6,564.4 L33.6,564.4 Z" fill="#4049a6"/>
<path d="M33.60,546.20 C35.39,546.18 40.74,546.16 44.31,546.11 C47.89,546.07 51.46,546.00 55.03,545.92 C58.60,545.85 62.17,545.75 65.74,545.67 C69.31,545.58 72.89,545.48 76.46,545.40 C80.03,545.32 83.60,545.24 87.17,545.19 C90.74,545.13 94.31,545.09 97.89,545.07 C101.46,545.05 106.81,545.08 108.60,545.08 L108.6,564.4 L33.6,564.4 Z" fill="#2d3086"/>
<path d="M33.60,552.10 C35.39,552.05 40.74,551.91 44.31,551.83 C47.89,551.74 51.46,551.66 55.03,551.60 C58.60,551.53 62.17,551.48 65.74,551.45 C69.31,551.42 72.89,551.42 76.46,551.43 C80.03,551.44 83.60,551.48 87.17,551.53 C90.74,551.58 94.31,551.66 97.89,551.74 C101.46,551.82 106.81,551.97 108.60,552.01 L108.6,564.4 L33.6,564.4 Z" fill="#3a44a2"/>
<path d="M33.60,555.46 C35.39,555.45 40.74,555.39 44.31,555.39 C47.89,555.39 51.46,555.41 55.03,555.45 C58.60,555.49 62.17,555.56 65.74,555.63 C69.31,555.70 72.89,555.79 76.46,555.88 C80.03,555.97 83.60,556.06 87.17,556.15 C90.74,556.23 94.31,556.31 97.89,556.37 C101.46,556.43 106.81,556.49 108.60,556.51 L108.6,564.4 L33.6,564.4 Z" fill="#7cc4e8"/>
<path d="M33.60,558.81 C35.39,558.86 40.74,558.98 44.31,559.08 C47.89,559.17 51.46,559.28 55.03,559.37 C58.60,559.46 62.17,559.56 65.74,559.64 C69.31,559.71 72.89,559.78 76.46,559.82 C80.03,559.86 83.60,559.89 87.17,559.89 C90.74,559.89 94.31,559.87 97.89,559.83 C101.46,559.79 106.81,559.69 108.60,559.66 L108.6,564.4 L33.6,564.4 Z" fill="#97c59b"/>
<line x1="33.6" y1="499.2" x2="108.6" y2="499.2" stroke="#72b2b6" stroke-width="1.3" stroke-dasharray="18,7" stroke-dashoffset="7.1"/>
<path d="M121.90,458.00 C124.58,457.72 133.07,456.67 138.00,456.30 C142.93,455.93 147.45,455.52 151.50,455.80 C155.55,456.08 158.70,458.22 162.30,458.00 C165.90,457.78 168.15,454.87 173.10,454.50 C178.05,454.13 184.85,455.48 192.00,455.80 C199.15,456.12 212.00,456.30 216.00,456.40 L216,559 L121.9,559 Z" fill="#8dc6bf"/>
<path d="M121.90,499.60 C124.14,499.60 130.86,499.60 135.34,499.60 C139.82,499.60 144.30,499.60 148.79,499.60 C153.27,499.60 157.75,499.60 162.23,499.60 C166.71,499.60 171.19,499.60 175.67,499.60 C180.15,499.60 184.63,499.60 189.11,499.60 C193.60,499.60 198.08,499.60 202.56,499.60 C207.04,499.60 213.76,499.60 216.00,499.60 L216,564.4 L121.9,564.4 Z" fill="#88cae6"/>
<path d="M121.90,515.25 C124.14,515.25 130.86,515.29 135.34,515.26 C139.82,515.24 144.30,515.17 148.79,515.09 C153.27,515.01 157.75,514.89 162.23,514.79 C166.71,514.69 171.19,514.57 175.67,514.48 C180.15,514.39 184.63,514.31 189.11,514.27 C193.60,514.23 198.08,514.21 202.56,514.23 C207.04,514.25 213.76,514.37 216.00,514.39 L216,564.4 L121.9,564.4 Z" fill="#6cb6e9"/>
<path d="M121.90,523.47 C124.14,523.42 130.86,523.27 135.34,523.17 C139.82,523.08 144.30,522.96 148.79,522.89 C153.27,522.82 157.75,522.75 162.23,522.73 C166.71,522.70 171.19,522.71 175.67,522.75 C180.15,522.79 184.63,522.87 189.11,522.97 C193.60,523.06 198.08,523.20 202.56,523.32 C207.04,523.44 213.76,523.64 216.00,523.70 L216,564.4 L121.9,564.4 Z" fill="#5a7fc8"/>
<path d="M121.90,529.25 C124.14,529.23 130.86,529.13 135.34,529.12 C139.82,529.11 144.30,529.14 148.79,529.19 C153.27,529.25 157.75,529.34 162.23,529.45 C166.71,529.55 171.19,529.69 175.67,529.82 C180.15,529.94 184.63,530.08 189.11,530.19 C193.60,530.30 198.08,530.40 202.56,530.46 C207.04,530.52 213.76,530.53 216.00,530.55 L216,564.4 L121.9,564.4 Z" fill="#4b5eb4"/>
<path d="M121.90,538.46 C124.14,538.52 130.86,538.69 135.34,538.82 C139.82,538.96 144.30,539.13 148.79,539.28 C153.27,539.43 157.75,539.59 162.23,539.72 C166.71,539.84 171.19,539.96 175.67,540.03 C180.15,540.10 184.63,540.14 189.11,540.15 C193.60,540.16 198.08,540.13 202.56,540.08 C207.04,540.04 213.76,539.92 216.00,539.88 L216,564.4 L121.9,564.4 Z" fill="#4049a6"/>
<path d="M121.90,545.81 C124.14,545.86 130.86,546.04 135.34,546.12 C139.82,546.20 144.30,546.26 148.79,546.29 C153.27,546.31 157.75,546.30 162.23,546.26 C166.71,546.21 171.19,546.13 175.67,546.04 C180.15,545.95 184.63,545.83 189.11,545.72 C193.60,545.61 198.08,545.49 202.56,545.40 C207.04,545.31 213.76,545.23 216.00,545.20 L216,564.4 L121.9,564.4 Z" fill="#2d3086"/>
<path d="M121.90,552.65 C124.14,552.64 130.86,552.62 135.34,552.57 C139.82,552.51 144.30,552.42 148.79,552.32 C153.27,552.22 157.75,552.09 162.23,551.98 C166.71,551.88 171.19,551.76 175.67,551.68 C180.15,551.60 184.63,551.53 189.11,551.51 C193.60,551.48 198.08,551.49 202.56,551.53 C207.04,551.56 213.76,551.70 216.00,551.73 L216,564.4 L121.9,564.4 Z" fill="#3a44a2"/>
<path d="M121.90,556.11 C124.14,556.05 130.86,555.86 135.34,555.75 C139.82,555.64 144.30,555.52 148.79,555.45 C153.27,555.37 157.75,555.32 162.23,555.30 C166.71,555.28 171.19,555.30 175.67,555.34 C180.15,555.39 184.63,555.48 189.11,555.57 C193.60,555.66 198.08,555.79 202.56,555.89 C207.04,556.00 213.76,556.16 216.00,556.21 L216,564.4 L121.9,564.4 Z" fill="#7cc4e8"/>
<path d="M121.90,558.84 C124.14,558.83 130.86,558.76 135.34,558.77 C139.82,558.78 144.30,558.82 148.79,558.89 C153.27,558.96 157.75,559.07 162.23,559.18 C166.71,559.29 171.19,559.43 175.67,559.55 C180.15,559.66 184.63,559.79 189.11,559.88 C193.60,559.96 198.08,560.04 202.56,560.07 C207.04,560.10 213.76,560.06 216.00,560.06 L216,564.4 L121.9,564.4 Z" fill="#97c59b"/>
<line x1="121.9" y1="499.2" x2="216" y2="499.2" stroke="#72b2b6" stroke-width="1.3" stroke-dasharray="18,7" stroke-dashoffset="7.2"/>
<path d="M229.60,462.20 C233.27,461.42 243.32,458.62 251.60,457.50 C259.88,456.38 270.05,455.27 279.30,455.50 C288.55,455.73 298.32,458.57 307.10,458.90 C315.88,459.23 323.22,457.05 332.00,457.50 C340.78,457.95 349.30,461.47 359.80,461.60 C370.30,461.73 389.13,458.85 395.00,458.30 L395,559 L229.6,559 Z" fill="#8dc6bf"/>
<path d="M229.60,499.60 C233.54,499.60 245.35,499.60 253.23,499.60 C261.10,499.60 268.98,499.60 276.86,499.60 C284.73,499.60 292.61,499.60 300.49,499.60 C308.36,499.60 316.24,499.60 324.11,499.60 C331.99,499.60 339.87,499.60 347.74,499.60 C355.62,499.60 363.50,499.60 371.37,499.60 C379.25,499.60 391.06,499.60 395.00,499.60 L395,564.4 L229.6,564.4 Z" fill="#88cae6"/>
<path d="M229.60,515.27 C233.54,515.31 245.35,515.53 253.23,515.52 C261.10,515.50 268.98,515.33 276.86,515.19 C284.73,515.04 292.61,514.77 300.49,514.65 C308.36,514.53 316.24,514.43 324.11,514.47 C331.99,514.50 339.87,514.69 347.74,514.86 C355.62,515.03 363.50,515.33 371.37,515.49 C379.25,515.65 391.06,515.75 395.00,515.80 L395,564.4 L229.6,564.4 Z" fill="#6cb6e9"/>
<path d="M229.60,524.04 C233.54,523.97 245.35,523.77 253.23,523.63 C261.10,523.48 268.98,523.24 276.86,523.16 C284.73,523.08 292.61,523.07 300.49,523.16 C308.36,523.24 316.24,523.50 324.11,523.69 C331.99,523.88 339.87,524.18 347.74,524.31 C355.62,524.45 363.50,524.53 371.37,524.50 C379.25,524.47 391.06,524.19 395.00,524.13 L395,564.4 L229.6,564.4 Z" fill="#5a7fc8"/>
<path d="M229.60,529.89 C233.54,529.83 245.35,529.55 253.23,529.51 C261.10,529.47 268.98,529.54 276.86,529.67 C284.73,529.79 292.61,530.09 300.49,530.28 C308.36,530.48 316.24,530.73 324.11,530.83 C331.99,530.93 339.87,530.92 347.74,530.85 C355.62,530.78 363.50,530.54 371.37,530.39 C379.25,530.25 391.06,530.04 395.00,529.97 L395,564.4 L229.6,564.4 Z" fill="#4b5eb4"/>
<path d="M229.60,539.34 C233.54,539.41 245.35,539.58 253.23,539.79 C261.10,539.99 268.98,540.35 276.86,540.58 C284.73,540.81 292.61,541.06 300.49,541.16 C308.36,541.25 316.24,541.22 324.11,541.16 C331.99,541.10 339.87,540.88 347.74,540.79 C355.62,540.70 363.50,540.57 371.37,540.60 C379.25,540.64 391.06,540.92 395.00,540.99 L395,564.4 L229.6,564.4 Z" fill="#4049a6"/>
<path d="M229.60,545.55 C233.54,545.65 245.35,546.01 253.23,546.15 C261.10,546.29 268.98,546.41 276.86,546.40 C284.73,546.38 292.61,546.22 300.49,546.07 C308.36,545.92 316.24,545.64 324.11,545.50 C331.99,545.37 339.87,545.25 347.74,545.26 C355.62,545.28 363.50,545.44 371.37,545.60 C379.25,545.76 391.06,546.11 395.00,546.21 L395,564.4 L229.6,564.4 Z" fill="#2d3086"/>
<path d="M229.60,552.59 C233.54,552.60 245.35,552.74 253.23,552.68 C261.10,552.62 268.98,552.39 276.86,552.23 C284.73,552.06 292.61,551.79 300.49,551.69 C308.36,551.58 316.24,551.53 324.11,551.59 C331.99,551.65 339.87,551.88 347.74,552.05 C355.62,552.22 363.50,552.50 371.37,552.62 C379.25,552.74 391.06,552.75 395.00,552.78 L395,564.4 L229.6,564.4 Z" fill="#3a44a2"/>
<path d="M229.60,556.31 C233.54,556.22 245.35,555.92 253.23,555.75 C261.10,555.57 268.98,555.33 276.86,555.25 C284.73,555.17 292.61,555.19 300.49,555.28 C308.36,555.37 316.24,555.63 324.11,555.79 C331.99,555.96 339.87,556.20 347.74,556.27 C355.62,556.34 363.50,556.33 371.37,556.23 C379.25,556.14 391.06,555.79 395.00,555.70 L395,564.4 L229.6,564.4 Z" fill="#7cc4e8"/>
<path d="M229.60,559.30 C233.54,559.24 245.35,558.98 253.23,558.97 C261.10,558.96 268.98,559.07 276.86,559.22 C284.73,559.36 292.61,559.66 300.49,559.84 C308.36,560.01 316.24,560.22 324.11,560.27 C331.99,560.32 339.87,560.24 347.74,560.13 C355.62,560.02 363.50,559.75 371.37,559.60 C379.25,559.45 391.06,559.28 395.00,559.22 L395,564.4 L229.6,564.4 Z" fill="#97c59b"/>
<line x1="229.6" y1="499.2" x2="395" y2="499.2" stroke="#72b2b6" stroke-width="1.3" stroke-dasharray="18,7" stroke-dashoffset="15.3"/>
<rect x="33.6" y="400" width="361.4" height="164.39999999999998" fill="none" stroke="#7d8b80" stroke-width="1.5"/>
<line x1="33.60" y1="400.00" x2="36.60" y2="400.00" stroke="#7d8b80" stroke-width="1.0"/>
<line x1="395.00" y1="400.00" x2="392.00" y2="400.00" stroke="#7d8b80" stroke-width="1.0"/>
<line x1="33.60" y1="414.95" x2="35.60" y2="414.95" stroke="#7d8b80" stroke-width="1.0"/>
<line x1="395.00" y1="414.95" x2="393.00" y2="414.95" stroke="#7d8b80" stroke-width="1.0"/>
<line x1="33.60" y1="429.89" x2="36.60" y2="429.89" stroke="#7d8b80" stroke-width="1.0"/>
<line x1="395.00" y1="429.89" x2="392.00" y2="429.89" stroke="#7d8b80" stroke-width="1.0"/>
<line x1="33.60" y1="444.84" x2="35.60" y2="444.84" stroke="#7d8b80" stroke-width="1.0"/>
<line x1="395.00" y1="444.84" x2="393.00" y2="444.84" stroke="#7d8b80" stroke-width="1.0"/>
<line x1="33.60" y1="459.78" x2="36.60" y2="459.78" stroke="#7d8b80" stroke-width="1.0"/>
<line x1="395.00" y1="459.78" x2="392.00" y2="459.78" stroke="#7d8b80" stroke-width="1.0"/>
<line x1="33.60" y1="474.73" x2="35.60" y2="474.73" stroke="#7d8b80" stroke-width="1.0"/>
<line x1="395.00" y1="474.73" x2="393.00" y2="474.73" stroke="#7d8b80" stroke-width="1.0"/>
<line x1="33.60" y1="489.67" x2="36.60" y2="489.67" stroke="#7d8b80" stroke-width="1.0"/>
<line x1="395.00" y1="489.67" x2="392.00" y2="489.67" stroke="#7d8b80" stroke-width="1.0"/>
<line x1="33.60" y1="504.62" x2="35.60" y2="504.62" stroke="#7d8b80" stroke-width="1.0"/>
<line x1="395.00" y1="504.62" x2="393.00" y2="504.62" stroke="#7d8b80" stroke-width="1.0"/>
<line x1="33.60" y1="519.56" x2="36.60" y2="519.56" stroke="#7d8b80" stroke-width="1.0"/>
<line x1="395.00" y1="519.56" x2="392.00" y2="519.56" stroke="#7d8b80" stroke-width="1.0"/>
<line x1="33.60" y1="534.51" x2="35.60" y2="534.51" stroke="#7d8b80" stroke-width="1.0"/>
<line x1="395.00" y1="534.51" x2="393.00" y2="534.51" stroke="#7d8b80" stroke-width="1.0"/>
<line x1="33.60" y1="549.45" x2="36.60" y2="549.45" stroke="#7d8b80" stroke-width="1.0"/>
<line x1="395.00" y1="549.45" x2="392.00" y2="549.45" stroke="#7d8b80" stroke-width="1.0"/>
<text x="28.40" y="553.25" font-size="10.5" text-anchor="end" fill="#231f20" color="#231f20" font-weight="normal">0</text>
<text x="28.40" y="523.36" font-size="10.5" text-anchor="end" fill="#231f20" color="#231f20" font-weight="normal">1</text>
<text x="28.40" y="493.47" font-size="10.5" text-anchor="end" fill="#231f20" color="#231f20" font-weight="normal">2</text>
<text x="28.40" y="463.58" font-size="10.5" text-anchor="end" fill="#231f20" color="#231f20" font-weight="normal">3</text>
<text x="28.40" y="433.69" font-size="10.5" text-anchor="end" fill="#231f20" color="#231f20" font-weight="normal">4</text>
<text x="28.40" y="403.80" font-size="10.5" text-anchor="end" fill="#231f20" color="#231f20" font-weight="normal">5</text>
<text x="13.00" y="482.00" font-size="10.8" text-anchor="middle" fill="#231f20" color="#231f20" font-weight="normal" transform="rotate(-90 13.00 482.00)">Time delay (ps)</text>
<line x1="54.10" y1="400.00" x2="54.10" y2="402.50" stroke="#7d8b80" stroke-width="1.0"/>
<line x1="81.40" y1="400.00" x2="81.40" y2="402.50" stroke="#7d8b80" stroke-width="1.0"/>
<line x1="109.60" y1="400.00" x2="109.60" y2="402.50" stroke="#7d8b80" stroke-width="1.0"/>
<line x1="137.40" y1="400.00" x2="137.40" y2="402.50" stroke="#7d8b80" stroke-width="1.0"/>
<line x1="168.00" y1="400.00" x2="168.00" y2="402.50" stroke="#7d8b80" stroke-width="1.0"/>
<line x1="198.70" y1="400.00" x2="198.70" y2="402.50" stroke="#7d8b80" stroke-width="1.0"/>
<line x1="232.60" y1="400.00" x2="232.60" y2="402.50" stroke="#7d8b80" stroke-width="1.0"/>
<line x1="266.30" y1="400.00" x2="266.30" y2="402.50" stroke="#7d8b80" stroke-width="1.0"/>
<line x1="296.00" y1="400.00" x2="296.00" y2="402.50" stroke="#7d8b80" stroke-width="1.0"/>
<line x1="327.90" y1="400.00" x2="327.90" y2="402.50" stroke="#7d8b80" stroke-width="1.0"/>
<line x1="359.50" y1="400.00" x2="359.50" y2="402.50" stroke="#7d8b80" stroke-width="1.0"/>
<line x1="46.20" y1="564.40" x2="46.20" y2="561.90" stroke="#7d8b80" stroke-width="1.0"/>
<line x1="74.60" y1="564.40" x2="74.60" y2="561.90" stroke="#7d8b80" stroke-width="1.0"/>
<line x1="102.90" y1="564.40" x2="102.90" y2="561.90" stroke="#7d8b80" stroke-width="1.0"/>
<line x1="131.30" y1="564.40" x2="131.30" y2="561.90" stroke="#7d8b80" stroke-width="1.0"/>
<line x1="167.70" y1="564.40" x2="167.70" y2="561.90" stroke="#7d8b80" stroke-width="1.0"/>
<line x1="204.20" y1="564.40" x2="204.20" y2="561.90" stroke="#7d8b80" stroke-width="1.0"/>
<line x1="232.20" y1="564.40" x2="232.20" y2="561.90" stroke="#7d8b80" stroke-width="1.0"/>
<line x1="272.40" y1="564.40" x2="272.40" y2="561.90" stroke="#7d8b80" stroke-width="1.0"/>
<line x1="311.20" y1="564.40" x2="311.20" y2="561.90" stroke="#7d8b80" stroke-width="1.0"/>
<line x1="351.50" y1="564.40" x2="351.50" y2="561.90" stroke="#7d8b80" stroke-width="1.0"/>
<line x1="115.30" y1="402.80" x2="117.50" y2="397.40" stroke="#555d57" stroke-width="0.8"/>
<line x1="117.70" y1="402.80" x2="119.90" y2="397.40" stroke="#555d57" stroke-width="0.8"/>
<line x1="220.50" y1="402.80" x2="222.70" y2="397.40" stroke="#555d57" stroke-width="0.8"/>
<line x1="222.90" y1="402.80" x2="225.10" y2="397.40" stroke="#555d57" stroke-width="0.8"/>
<line x1="114.70" y1="567.20" x2="116.90" y2="561.80" stroke="#555d57" stroke-width="0.8"/>
<line x1="117.10" y1="567.20" x2="119.30" y2="561.80" stroke="#555d57" stroke-width="0.8"/>
<line x1="219.40" y1="567.20" x2="221.60" y2="561.80" stroke="#555d57" stroke-width="0.8"/>
<line x1="221.80" y1="567.20" x2="224.00" y2="561.80" stroke="#555d57" stroke-width="0.8"/>
<text x="54.10" y="392.80" font-size="10.5" text-anchor="middle" fill="#231f20" color="#231f20" font-weight="normal">175</text>
<text x="110.30" y="392.80" font-size="10.5" text-anchor="middle" fill="#231f20" color="#231f20" font-weight="normal">185</text>
<text x="137.40" y="392.80" font-size="10.5" text-anchor="middle" fill="#231f20" color="#231f20" font-weight="normal">250</text>
<text x="198.70" y="392.80" font-size="10.5" text-anchor="middle" fill="#231f20" color="#231f20" font-weight="normal">270</text>
<text x="266.30" y="392.80" font-size="10.5" text-anchor="middle" fill="#231f20" color="#231f20" font-weight="normal">320</text>
<text x="327.90" y="392.80" font-size="10.5" text-anchor="middle" fill="#231f20" color="#231f20" font-weight="normal">340</text>
<text x="390.50" y="392.80" font-size="10.5" text-anchor="middle" fill="#231f20" color="#231f20" font-weight="normal">360</text>
<text x="46.70" y="583.00" font-size="10.5" text-anchor="middle" fill="#231f20" color="#231f20" font-weight="normal">1,400</text>
<text x="101.60" y="583.00" font-size="10.5" text-anchor="middle" fill="#231f20" color="#231f20" font-weight="normal">1,480</text>
<text x="131.30" y="583.00" font-size="10.5" text-anchor="middle" fill="#231f20" color="#231f20" font-weight="normal">2,000</text>
<text x="202.80" y="583.00" font-size="10.5" text-anchor="middle" fill="#231f20" color="#231f20" font-weight="normal">2,200</text>
<text x="239.10" y="583.00" font-size="10.5" text-anchor="middle" fill="#231f20" color="#231f20" font-weight="normal">2,500</text>
<text x="310.40" y="583.00" font-size="10.5" text-anchor="middle" fill="#231f20" color="#231f20" font-weight="normal">2,700</text>
<text x="390.20" y="583.00" font-size="10.5" text-anchor="middle" fill="#231f20" color="#231f20" font-weight="normal">2,900</text>
<text x="220.50" y="376.00" font-size="11" text-anchor="middle" fill="#231f20" color="#231f20" font-weight="normal">Detection energy (meV)</text>
<text x="220.60" y="600.50" font-size="11" text-anchor="middle" fill="#231f20" color="#231f20" font-weight="normal">Detection frequency (cm<tspan dy="-4.5" font-size="8">−1</tspan><tspan dy="4.5">)</tspan></text>
<text x="214.00" y="436.20" font-size="11" text-anchor="middle" fill="#5b63a3" color="#5b63a3" font-weight="normal">Excitation 3.10 eV</text>
<defs><linearGradient id="cb" x1="0" y1="0" x2="0" y2="1"><stop offset="0" stop-color="#c8da4a"/><stop offset="0.1" stop-color="#b2d070"/><stop offset="0.22" stop-color="#94c59f"/><stop offset="0.33" stop-color="#88c8c6"/><stop offset="0.44" stop-color="#6cc3ea"/><stop offset="0.56" stop-color="#4f80cc"/><stop offset="0.72" stop-color="#3a4aa8"/><stop offset="1" stop-color="#2a2c80"/></linearGradient></defs>
<rect x="400.4" y="400" width="7.6" height="52.4" fill="url(#cb)" stroke="#6d7a70" stroke-width="0.6"/>
<line x1="400.40" y1="405.60" x2="402.00" y2="405.60" stroke="#555" stroke-width="0.6"/>
<line x1="408.00" y1="405.60" x2="406.40" y2="405.60" stroke="#555" stroke-width="0.6"/>
<line x1="400.40" y1="423.00" x2="402.00" y2="423.00" stroke="#555" stroke-width="0.6"/>
<line x1="408.00" y1="423.00" x2="406.40" y2="423.00" stroke="#555" stroke-width="0.6"/>
<line x1="400.40" y1="442.40" x2="402.00" y2="442.40" stroke="#555" stroke-width="0.6"/>
<line x1="408.00" y1="442.40" x2="406.40" y2="442.40" stroke="#555" stroke-width="0.6"/>
<text x="412.20" y="408.80" font-size="10.7" text-anchor="start" fill="#231f20" color="#231f20" font-weight="normal">0</text>
<text x="412.20" y="426.20" font-size="10.7" text-anchor="start" fill="#231f20" color="#231f20" font-weight="normal">−0.4</text>
<text x="412.20" y="445.80" font-size="10.7" text-anchor="start" fill="#231f20" color="#231f20" font-weight="normal">−0.8</text>
<text x="422.60" y="502.40" font-size="10.2" text-anchor="middle" fill="#231f20" color="#231f20" font-weight="normal" transform="rotate(-90 422.60 502.40)">−ΔOD (normalized)</text>
<line x1="489.80" y1="411.20" x2="647.20" y2="411.20" stroke="#231f20" stroke-width="2.0"/>
<line x1="489.80" y1="546.60" x2="647.20" y2="546.60" stroke="#231f20" stroke-width="2.0"/>
<line x1="514.02" y1="546.60" x2="514.02" y2="543.10" stroke="#231f20" stroke-width="1.6"/>
<line x1="574.55" y1="546.60" x2="574.55" y2="543.10" stroke="#231f20" stroke-width="1.6"/>
<line x1="635.09" y1="546.60" x2="635.09" y2="543.10" stroke="#231f20" stroke-width="1.6"/>
<line x1="544.28" y1="546.60" x2="544.28" y2="544.10" stroke="#231f20" stroke-width="1.2"/>
<line x1="604.82" y1="546.60" x2="604.82" y2="544.10" stroke="#231f20" stroke-width="1.2"/>
<text x="514.02" y="560.80" font-size="10" text-anchor="middle" fill="#231f20" color="#231f20" font-weight="normal">0</text>
<text x="574.55" y="560.80" font-size="10" text-anchor="middle" fill="#231f20" color="#231f20" font-weight="normal">50</text>
<text x="635.09" y="560.80" font-size="10" text-anchor="middle" fill="#231f20" color="#231f20" font-weight="normal">100</text>
<text x="568.00" y="577.60" font-size="11" text-anchor="middle" fill="#231f20" color="#231f20" font-weight="normal">Waiting time (ps)</text>
<line x1="511.8" y1="427" x2="511.8" y2="446" stroke="#7f9fd8" stroke-width="1.2"/>
<path d="M514.00,536.80 C514.33,536.08 515.33,533.88 516.00,532.50 C516.67,531.12 517.33,529.77 518.00,528.50 C518.67,527.23 519.17,526.30 520.00,524.90 C520.83,523.50 522.00,521.62 523.00,520.10 C524.00,518.58 524.83,517.33 526.00,515.80 C527.17,514.27 528.50,512.58 530.00,510.90 C531.50,509.22 533.33,507.28 535.00,505.70 C536.67,504.12 538.17,502.85 540.00,501.40 C541.83,499.95 544.00,498.33 546.00,497.00 C548.00,495.67 549.67,494.68 552.00,493.40 C554.33,492.12 557.00,490.68 560.00,489.30 C563.00,487.92 566.67,486.40 570.00,485.10 C573.33,483.80 575.83,482.87 580.00,481.50 C584.17,480.13 590.00,478.35 595.00,476.90 C600.00,475.45 605.00,474.08 610.00,472.80 C615.00,471.52 620.70,470.23 625.00,469.20 C629.30,468.17 634.00,467.03 635.80,466.60" fill="none" stroke="#4f86c8" stroke-width="1.6" stroke-linejoin="round"/>
<path d="M505.40,426.60 C506.57,426.60 511.15,425.20 512.40,426.60 C513.65,428.00 512.77,422.77 512.90,435.00 C513.03,447.23 513.07,483.67 513.20,500.00 C513.33,516.33 513.50,528.50 513.70,533.00 C513.90,537.50 514.20,535.83 514.40,527.00 C514.60,518.17 514.75,492.83 514.90,480.00 C515.05,467.17 515.08,456.83 515.30,450.00 C515.52,443.17 515.47,441.87 516.20,439.00 C516.93,436.13 517.70,434.23 519.70,432.80 C521.70,431.37 525.20,430.88 528.20,430.40 C531.20,429.92 532.40,430.07 537.70,429.90 C543.00,429.73 549.62,429.75 560.00,429.40 C570.38,429.05 587.45,428.27 600.00,427.80 C612.55,427.33 629.42,426.80 635.30,426.60" fill="none" stroke="#d5404f" stroke-width="1.6" stroke-linejoin="round"/>
<circle cx="513.64" cy="430.00" r="1.4" fill="none" stroke="#d5404f" stroke-width="0.6"/>
<circle cx="513.19" cy="433.00" r="1.4" fill="none" stroke="#d5404f" stroke-width="0.6"/>
<circle cx="514.49" cy="436.00" r="1.4" fill="none" stroke="#d5404f" stroke-width="0.6"/>
<circle cx="512.99" cy="439.00" r="1.4" fill="none" stroke="#d5404f" stroke-width="0.6"/>
<circle cx="514.19" cy="442.00" r="1.4" fill="none" stroke="#d5404f" stroke-width="0.6"/>
<circle cx="513.75" cy="445.00" r="1.4" fill="none" stroke="#d5404f" stroke-width="0.6"/>
<circle cx="512.95" cy="448.00" r="1.4" fill="none" stroke="#d5404f" stroke-width="0.6"/>
<circle cx="514.12" cy="451.00" r="1.4" fill="none" stroke="#d5404f" stroke-width="0.6"/>
<circle cx="512.90" cy="454.00" r="1.4" fill="none" stroke="#d5404f" stroke-width="0.6"/>
<circle cx="513.93" cy="457.00" r="1.4" fill="none" stroke="#d5404f" stroke-width="0.6"/>
<circle cx="512.98" cy="460.00" r="1.4" fill="none" stroke="#d5404f" stroke-width="0.6"/>
<circle cx="513.04" cy="463.00" r="1.4" fill="none" stroke="#d5404f" stroke-width="0.6"/>
<circle cx="513.90" cy="466.00" r="1.4" fill="none" stroke="#d5404f" stroke-width="0.6"/>
<circle cx="514.95" cy="469.00" r="1.4" fill="none" stroke="#d5404f" stroke-width="0.6"/>
<circle cx="513.12" cy="472.00" r="1.4" fill="none" stroke="#d5404f" stroke-width="0.6"/>
<circle cx="513.38" cy="475.00" r="1.4" fill="none" stroke="#d5404f" stroke-width="0.6"/>
<circle cx="514.43" cy="478.00" r="1.4" fill="none" stroke="#d5404f" stroke-width="0.6"/>
<circle cx="515.26" cy="481.00" r="1.4" fill="none" stroke="#d5404f" stroke-width="0.6"/>
<circle cx="514.30" cy="484.00" r="1.4" fill="none" stroke="#d5404f" stroke-width="0.6"/>
<circle cx="513.83" cy="487.00" r="1.4" fill="none" stroke="#d5404f" stroke-width="0.6"/>
<circle cx="515.34" cy="490.00" r="1.4" fill="none" stroke="#d5404f" stroke-width="0.6"/>
<circle cx="512.92" cy="493.00" r="1.4" fill="none" stroke="#d5404f" stroke-width="0.6"/>
<circle cx="515.03" cy="496.00" r="1.4" fill="none" stroke="#d5404f" stroke-width="0.6"/>
<circle cx="513.55" cy="499.00" r="1.4" fill="none" stroke="#d5404f" stroke-width="0.6"/>
<circle cx="513.18" cy="502.00" r="1.4" fill="none" stroke="#d5404f" stroke-width="0.6"/>
<circle cx="513.11" cy="505.00" r="1.4" fill="none" stroke="#d5404f" stroke-width="0.6"/>
<circle cx="513.60" cy="508.00" r="1.4" fill="none" stroke="#d5404f" stroke-width="0.6"/>
<circle cx="514.92" cy="511.00" r="1.4" fill="none" stroke="#d5404f" stroke-width="0.6"/>
<circle cx="513.27" cy="514.00" r="1.4" fill="none" stroke="#d5404f" stroke-width="0.6"/>
<circle cx="514.31" cy="517.00" r="1.4" fill="none" stroke="#d5404f" stroke-width="0.6"/>
<circle cx="514.46" cy="520.00" r="1.4" fill="none" stroke="#d5404f" stroke-width="0.6"/>
<circle cx="513.77" cy="523.00" r="1.4" fill="none" stroke="#d5404f" stroke-width="0.6"/>
<circle cx="514.22" cy="526.00" r="1.4" fill="none" stroke="#d5404f" stroke-width="0.6"/>
<circle cx="512.96" cy="529.00" r="1.4" fill="none" stroke="#d5404f" stroke-width="0.6"/>
<circle cx="518.70" cy="430.40" r="1.6" fill="none" stroke="#d5404f" stroke-width="0.6"/>
<circle cx="522.50" cy="430.40" r="1.6" fill="none" stroke="#d5404f" stroke-width="0.6"/>
<circle cx="525.00" cy="432.00" r="1.6" fill="none" stroke="#d5404f" stroke-width="0.6"/>
<circle cx="531.00" cy="435.10" r="1.6" fill="none" stroke="#d5404f" stroke-width="0.6"/>
<circle cx="529.00" cy="434.00" r="1.6" fill="none" stroke="#d5404f" stroke-width="0.6"/>
<circle cx="535.80" cy="428.00" r="1.6" fill="none" stroke="#d5404f" stroke-width="0.6"/>
<circle cx="538.20" cy="431.30" r="1.6" fill="none" stroke="#d5404f" stroke-width="0.6"/>
<circle cx="510.00" cy="424.00" r="1.6" fill="none" stroke="#d5404f" stroke-width="0.6"/>
<circle cx="512.00" cy="422.00" r="1.6" fill="none" stroke="#d5404f" stroke-width="0.6"/>
<path d="M505.50,425.36 L507.60,428.93 L503.40,428.93 Z" fill="none" stroke="#8fb1df" stroke-width="0.7"/>
<path d="M508.00,422.86 L510.10,426.43 L505.90,426.43 Z" fill="none" stroke="#8fb1df" stroke-width="0.7"/>
<path d="M510.00,419.36 L512.10,422.93 L507.90,422.93 Z" fill="none" stroke="#8fb1df" stroke-width="0.7"/>
<path d="M512.00,423.86 L514.10,427.43 L509.90,427.43 Z" fill="none" stroke="#8fb1df" stroke-width="0.7"/>
<path d="M513.50,447.86 L515.60,451.43 L511.40,451.43 Z" fill="none" stroke="#8fb1df" stroke-width="0.7"/>
<path d="M513.50,467.86 L515.60,471.43 L511.40,471.43 Z" fill="none" stroke="#8fb1df" stroke-width="0.7"/>
<path d="M513.80,492.86 L515.90,496.43 L511.70,496.43 Z" fill="none" stroke="#8fb1df" stroke-width="0.7"/>
<path d="M514.50,536.86 L516.60,540.43 L512.40,540.43 Z" fill="none" stroke="#8fb1df" stroke-width="0.7"/>
<path d="M516.00,530.02 L518.10,533.59 L513.90,533.59 Z" fill="none" stroke="#8fb1df" stroke-width="0.7"/>
<path d="M518.00,526.78 L520.10,530.35 L515.90,530.35 Z" fill="none" stroke="#8fb1df" stroke-width="0.7"/>
<path d="M521.00,524.08 L523.10,527.65 L518.90,527.65 Z" fill="none" stroke="#8fb1df" stroke-width="0.7"/>
<path d="M523.00,517.72 L525.10,521.29 L520.90,521.29 Z" fill="none" stroke="#8fb1df" stroke-width="0.7"/>
<path d="M525.00,515.07 L527.10,518.64 L522.90,518.64 Z" fill="none" stroke="#8fb1df" stroke-width="0.7"/>
<path d="M527.00,512.97 L529.10,516.54 L524.90,516.54 Z" fill="none" stroke="#8fb1df" stroke-width="0.7"/>
<path d="M530.00,506.55 L532.10,510.12 L527.90,510.12 Z" fill="none" stroke="#8fb1df" stroke-width="0.7"/>
<path d="M534.00,504.61 L536.10,508.18 L531.90,508.18 Z" fill="none" stroke="#8fb1df" stroke-width="0.7"/>
<path d="M538.00,501.79 L540.10,505.36 L535.90,505.36 Z" fill="none" stroke="#8fb1df" stroke-width="0.7"/>
<path d="M542.00,499.76 L544.10,503.33 L539.90,503.33 Z" fill="none" stroke="#8fb1df" stroke-width="0.7"/>
<path d="M546.00,492.02 L548.10,495.59 L543.90,495.59 Z" fill="none" stroke="#8fb1df" stroke-width="0.7"/>
<path d="M551.00,490.44 L553.10,494.01 L548.90,494.01 Z" fill="none" stroke="#8fb1df" stroke-width="0.7"/>
<path d="M556.00,486.25 L558.10,489.82 L553.90,489.82 Z" fill="none" stroke="#8fb1df" stroke-width="0.7"/>
<path d="M560.00,489.33 L562.10,492.90 L557.90,492.90 Z" fill="none" stroke="#8fb1df" stroke-width="0.7"/>
<path d="M566.00,485.91 L568.10,489.48 L563.90,489.48 Z" fill="none" stroke="#8fb1df" stroke-width="0.7"/>
<path d="M571.00,479.36 L573.10,482.93 L568.90,482.93 Z" fill="none" stroke="#8fb1df" stroke-width="0.7"/>
<path d="M576.00,484.09 L578.10,487.66 L573.90,487.66 Z" fill="none" stroke="#8fb1df" stroke-width="0.7"/>
<path d="M582.00,481.96 L584.10,485.53 L579.90,485.53 Z" fill="none" stroke="#8fb1df" stroke-width="0.7"/>
<path d="M588.00,477.92 L590.10,481.49 L585.90,481.49 Z" fill="none" stroke="#8fb1df" stroke-width="0.7"/>
<path d="M594.00,475.86 L596.10,479.43 L591.90,479.43 Z" fill="none" stroke="#8fb1df" stroke-width="0.7"/>
<path d="M599.00,471.22 L601.10,474.79 L596.90,474.79 Z" fill="none" stroke="#8fb1df" stroke-width="0.7"/>
<path d="M605.00,468.57 L607.10,472.14 L602.90,472.14 Z" fill="none" stroke="#8fb1df" stroke-width="0.7"/>
<path d="M611.00,470.60 L613.10,474.17 L608.90,474.17 Z" fill="none" stroke="#8fb1df" stroke-width="0.7"/>
<path d="M616.00,466.10 L618.10,469.67 L613.90,469.67 Z" fill="none" stroke="#8fb1df" stroke-width="0.7"/>
<path d="M622.00,465.60 L624.10,469.17 L619.90,469.17 Z" fill="none" stroke="#8fb1df" stroke-width="0.7"/>
<path d="M629.00,464.29 L631.10,467.86 L626.90,467.86 Z" fill="none" stroke="#8fb1df" stroke-width="0.7"/>
<path d="M635.00,461.36 L637.10,464.93 L632.90,464.93 Z" fill="none" stroke="#8fb1df" stroke-width="0.7"/>
<line x1="489.80" y1="410.20" x2="489.80" y2="547.60" stroke="#d5404f" stroke-width="3.2"/>
<line x1="647.20" y1="410.20" x2="647.20" y2="547.60" stroke="#5b8fd0" stroke-width="3.0"/>
<rect x="490.8" y="425.93" width="3" height="2.4" fill="#d5404f"/>
<rect x="490.8" y="449.82" width="2" height="2.4" fill="#d5404f"/>
<rect x="490.8" y="473.72" width="3" height="2.4" fill="#d5404f"/>
<rect x="490.8" y="497.61" width="2" height="2.4" fill="#d5404f"/>
<rect x="490.8" y="521.51" width="3" height="2.4" fill="#d5404f"/>
<rect x="490.8" y="545.40" width="2" height="2.4" fill="#d5404f"/>
<text x="484.00" y="432.13" font-size="10.2" text-anchor="end" fill="#d64a5a" color="#d64a5a" font-weight="normal">0</text>
<text x="484.00" y="479.92" font-size="10.2" text-anchor="end" fill="#d64a5a" color="#d64a5a" font-weight="normal">−3</text>
<text x="484.00" y="527.71" font-size="10.2" text-anchor="end" fill="#d64a5a" color="#d64a5a" font-weight="normal">−6</text>
<rect x="643.2" y="425.93" width="3" height="2.4" fill="#5b8fd0"/>
<rect x="644.2" y="441.86" width="2" height="2.4" fill="#5b8fd0"/>
<rect x="643.2" y="457.79" width="3" height="2.4" fill="#5b8fd0"/>
<rect x="644.2" y="473.72" width="2" height="2.4" fill="#5b8fd0"/>
<rect x="643.2" y="489.65" width="3" height="2.4" fill="#5b8fd0"/>
<rect x="644.2" y="505.58" width="2" height="2.4" fill="#5b8fd0"/>
<rect x="643.2" y="521.51" width="3" height="2.4" fill="#5b8fd0"/>
<rect x="644.2" y="537.44" width="2" height="2.4" fill="#5b8fd0"/>
<text x="654.00" y="431.33" font-size="10.2" text-anchor="start" fill="#7fa4d8" color="#7fa4d8" font-weight="normal">0</text>
<text x="654.00" y="463.19" font-size="10.2" text-anchor="start" fill="#7fa4d8" color="#7fa4d8" font-weight="normal">−1</text>
<text x="654.00" y="495.05" font-size="10.2" text-anchor="start" fill="#7fa4d8" color="#7fa4d8" font-weight="normal">−2</text>
<text x="654.00" y="526.91" font-size="10.2" text-anchor="start" fill="#7fa4d8" color="#7fa4d8" font-weight="normal">−3</text>
<text x="463.50" y="479.00" font-size="11.2" text-anchor="middle" fill="#d64a5a" color="#d64a5a" font-weight="normal" transform="rotate(-90 463.50 479.00)">−ΔOD (×10<tspan dy="-4" font-size="7.5">−3</tspan><tspan dy="4">)</tspan></text>
<text x="683.60" y="481.00" font-size="11.6" text-anchor="middle" fill="#86aadc" color="#86aadc" font-weight="normal" transform="rotate(-90 683.60 481.00)">ΔT/T (×10<tspan dy="-4.5" font-size="8.5">−4</tspan><tspan dy="4.5">)</tspan></text>
<text x="552.40" y="455.80" font-size="9.4" text-anchor="start" fill="#4f4896" color="#4f4896" font-weight="normal">3.10 eV</text>
<circle cx="573.80" cy="504.30" r="1.6" fill="none" stroke="#c08890" stroke-width="0.8"/>
<text x="581.00" y="507.80" font-size="9.3" text-anchor="start" fill="#d03a52" color="#d03a52" font-weight="normal">0.36 eV</text>
<path d="M573.80,526.66 L575.70,529.89 L571.90,529.89 Z" fill="none" stroke="#98a2bc" stroke-width="0.8"/>
<text x="580.20" y="531.00" font-size="9.3" text-anchor="start" fill="#8ea3c8" color="#8ea3c8" font-weight="normal">1.55 eV</text>
</svg></body></html>
